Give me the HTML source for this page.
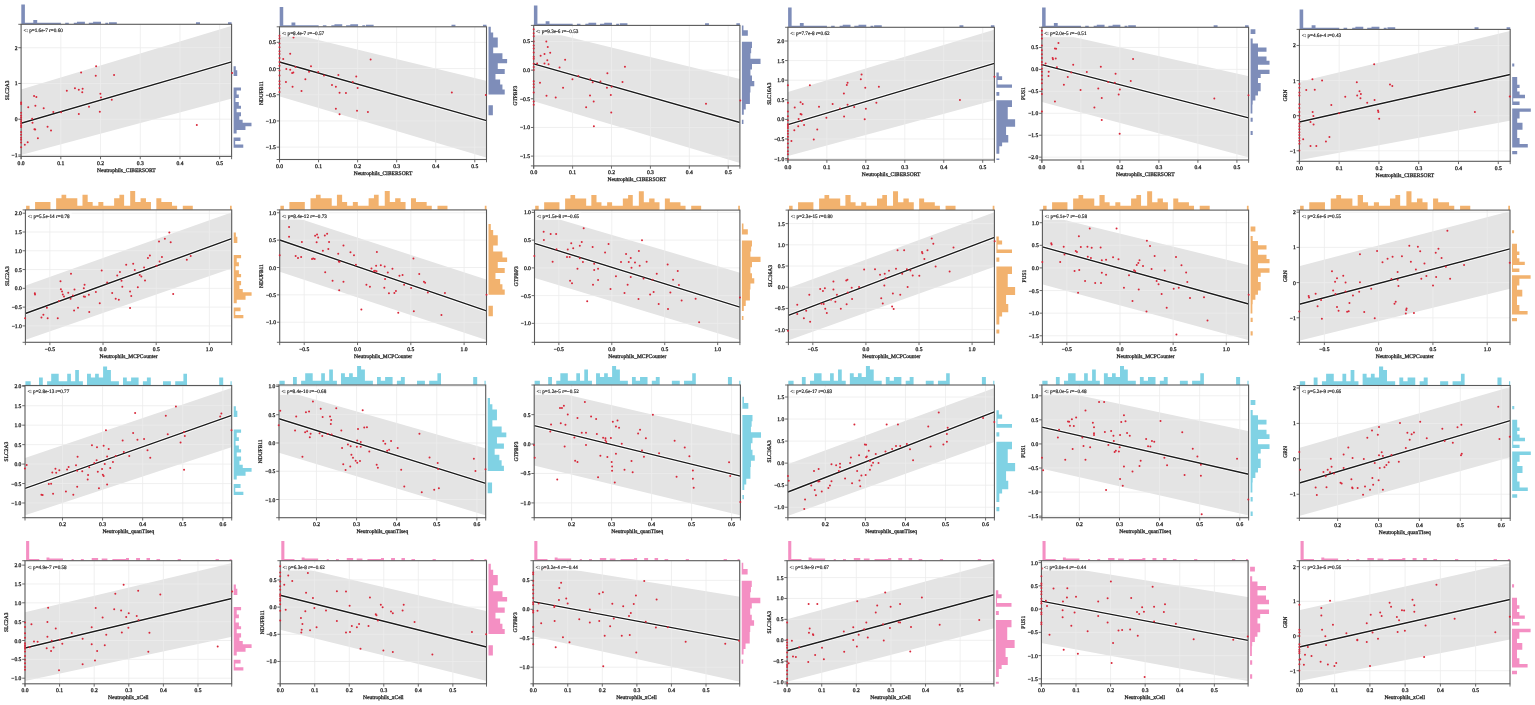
<!DOCTYPE html>
<html><head><meta charset="utf-8"><title>Neutrophil correlation plots</title>
<style>html,body{margin:0;padding:0;background:#fff;}body{width:1535px;height:705px;overflow:hidden;}svg{display:block;}</style>
</head><body>
<svg width="1535" height="705" viewBox="0 0 1535 705" font-family="'Liberation Serif', 'Times New Roman', serif" fill="#2a2a2a"><defs><filter id="bl" x="0" y="0" width="1" height="1"><feGaussianBlur stdDeviation="0.45"/></filter></defs><rect width="1535" height="705" fill="#fff"/><style>text{stroke:#2a2a2a;stroke-width:0.3px;text-rendering:geometricPrecision;}</style><g filter="url(#bl)">
<clipPath id="c00"><rect x="21.1" y="24.3" width="210.5" height="132.1"/></clipPath>
<path fill="#7e8db9" d="M21.3 24.1L21.3 4.4L24.9 4.4L24.9 22.7L33.3 22.7L33.3 20.1L37.2 20.1L37.2 22.7L60.9 22.7L60.9 24.1ZM65.2 24.1L65.2 22.7L68.8 22.7L68.8 24.1ZM73.8 24.1L73.8 22.7L77 22.7L77 21.7L84.9 21.7L84.9 24.1ZM88.8 24.1L88.8 22.7L93.1 22.7L93.1 21.7L101 21.7L101 24.1ZM105.3 24.1L105.3 22.7L108.2 22.7L108.2 24.1ZM109 24.1L109 22.2L116.8 22.2L116.8 24.1ZM196 24.1L196 22.2L200 22.2L200 24.1ZM228 24.1L228 22.2L231.6 22.2L231.6 24.1Z"/>
<path fill="#7e8db9" d="M233.6 66.16L235.78 66.16L235.78 70.16L237.24 70.16L237.24 75.96L233.6 75.96ZM233.6 87.46L240.98 87.46L240.98 90.51L236.62 90.51L236.62 94.5L238.8 94.5L238.8 98.12L235.47 98.12L235.47 102.11L238.8 102.11L238.8 105.63L240.98 105.63L240.98 108.67L236.62 108.67L236.62 112.29L240.98 112.29L240.98 116.28L239.32 116.28L239.32 119.8L242.65 119.8L242.65 122.84L251.49 122.84L251.49 126.36L245.46 126.36L245.46 129.98L236.62 129.98L236.62 133.5L233.6 133.5ZM233.6 137.49L240.46 137.49L240.46 141.1L235.16 141.1L235.16 144.62L243.27 144.62L243.27 147.67L233.6 147.67Z"/>
<g clip-path="url(#c00)"><polygon fill="#e4e4e4" points="20.1,89.8 232.6,25.5 232.6,98.3 20.1,155.2"/><path d="M60.82 24.3V156.4M100.53 24.3V156.4M140.25 24.3V156.4M179.97 24.3V156.4M219.68 24.3V156.4M21.1 47.71H231.6M21.1 83.47H231.6M21.1 119.23H231.6M21.1 154.99H231.6" stroke="#ececec" stroke-width="0.8" fill="none"/><path d="M21.1 123.3L231.6 61.8" stroke="#fff" stroke-width="3.2" fill="none"/><path d="M21.1 123.3L231.6 61.8" stroke="#1c1c1c" stroke-width="1.4" fill="none"/></g>
<rect x="21.1" y="24.3" width="210.5" height="132.1" fill="none" stroke="#5a5a5a" stroke-width="1.1"/>
<g fill="#d8283a"><circle cx="28.26" cy="107.25" r="1.0"/><circle cx="34.04" cy="96.06" r="1.0"/><circle cx="36.36" cy="97.02" r="1.0"/><circle cx="35.39" cy="105.7" r="1.0"/><circle cx="43.69" cy="108.21" r="1.0"/><circle cx="32.11" cy="118.82" r="1.0"/><circle cx="32.5" cy="122.87" r="1.0"/><circle cx="34.43" cy="129.23" r="1.0"/><circle cx="35.2" cy="129.43" r="1.0"/><circle cx="47.54" cy="126.73" r="1.0"/><circle cx="51.02" cy="130.39" r="1.0"/><circle cx="37.9" cy="138.3" r="1.0"/><circle cx="27.68" cy="142.15" r="1.0"/><circle cx="24.79" cy="144.85" r="1.0"/><circle cx="53.33" cy="112.07" r="1.0"/><circle cx="61.04" cy="112.26" r="1.0"/><circle cx="66.83" cy="90.85" r="1.0"/><circle cx="74.93" cy="88.35" r="1.0"/><circle cx="78.79" cy="89.7" r="1.0"/><circle cx="82.65" cy="88.73" r="1.0"/><circle cx="82.26" cy="92.2" r="1.0"/><circle cx="78.79" cy="114" r="1.0"/><circle cx="81.1" cy="72.53" r="1.0"/><circle cx="96.15" cy="66.36" r="1.0"/><circle cx="95.76" cy="75.81" r="1.0"/><circle cx="114.08" cy="75.04" r="1.0"/><circle cx="89.01" cy="106.86" r="1.0"/><circle cx="100.39" cy="93.75" r="1.0"/><circle cx="100.97" cy="97.6" r="1.0"/><circle cx="99.81" cy="111.87" r="1.0"/><circle cx="111.77" cy="99.72" r="1.0"/><circle cx="196.82" cy="124.99" r="1.0"/><circle cx="232.11" cy="72.92" r="1.0"/><circle cx="21.1" cy="102.62" r="1.0"/><circle cx="21.1" cy="103.97" r="1.0"/><circle cx="21.1" cy="112.65" r="1.0"/><circle cx="21.1" cy="115.54" r="1.0"/><circle cx="21.1" cy="117.47" r="1.0"/><circle cx="21.1" cy="119.4" r="1.0"/><circle cx="21.1" cy="121.32" r="1.0"/><circle cx="21.1" cy="123.25" r="1.0"/><circle cx="21.1" cy="125.18" r="1.0"/><circle cx="21.1" cy="127.11" r="1.0"/><circle cx="21.1" cy="131.93" r="1.0"/><circle cx="21.1" cy="134.83" r="1.0"/><circle cx="21.1" cy="137.72" r="1.0"/><circle cx="21.1" cy="139.65" r="1.0"/><circle cx="21.1" cy="142.54" r="1.0"/><circle cx="21.1" cy="147.36" r="1.0"/></g>
<path d="M21.1 156.4v2.8M60.82 156.4v2.8M100.53 156.4v2.8M140.25 156.4v2.8M179.97 156.4v2.8M219.68 156.4v2.8M21.1 47.71h-2.8M21.1 83.47h-2.8M21.1 119.23h-2.8M21.1 154.99h-2.8M21.1 156.4v2.8M231.6 156.4v2.8M21.1 24.3h-2.8M21.1 156.4h-2.8" stroke="#5a5a5a" stroke-width="0.9" fill="none"/>
<g font-size="5.6"><text x="21.1" y="164.9" text-anchor="middle">0.0</text><text x="60.82" y="164.9" text-anchor="middle">0.1</text><text x="100.53" y="164.9" text-anchor="middle">0.2</text><text x="140.25" y="164.9" text-anchor="middle">0.3</text><text x="179.97" y="164.9" text-anchor="middle">0.4</text><text x="219.68" y="164.9" text-anchor="middle">0.5</text><text x="17.5" y="49.71" text-anchor="end">2</text><text x="17.5" y="85.47" text-anchor="end">1</text><text x="17.5" y="121.23" text-anchor="end">0</text><text x="17.5" y="156.99" text-anchor="end">−1</text></g>
<text x="126.35" y="171.9" text-anchor="middle" font-size="5.5">Neutrophils_CIBERSORT</text>
<text transform="translate(8.74 90.35) rotate(-90)" text-anchor="middle" font-size="5.5">SLC2A3</text>
<rect x="22.3" y="26.6" width="42.41" height="7.6" fill="#fff" fill-opacity="0.8"/>
<text x="23.5" y="32.1" font-size="5.2" style="stroke-width:0.2px">&lt;: p=1.6e-7 r=0.60</text>
<clipPath id="c01"><rect x="279.5" y="26.8" width="207" height="132.7"/></clipPath>
<path fill="#7e8db9" d="M279.7 26.6L279.7 6.9L283.24 6.9L283.24 25.2L291.5 25.2L291.5 22.6L295.33 22.6L295.33 25.2L318.64 25.2L318.64 26.6ZM322.87 26.6L322.87 25.2L326.41 25.2L326.41 26.6ZM331.32 26.6L331.32 25.2L334.47 25.2L334.47 24.2L342.24 24.2L342.24 26.6ZM346.07 26.6L346.07 25.2L350.3 25.2L350.3 24.2L358.07 24.2L358.07 26.6ZM362.3 26.6L362.3 25.2L365.15 25.2L365.15 26.6ZM365.94 26.6L365.94 24.7L373.61 24.7L373.61 26.6ZM451.49 26.6L451.49 24.7L455.43 24.7L455.43 26.6ZM482.96 26.6L482.96 24.7L486.5 24.7L486.5 26.6Z"/>
<path fill="#7e8db9" d="M488.5 26.85L490.79 26.85L490.79 32.59L493.18 32.59L493.18 37.56L497.76 37.56L497.76 47.5L493.18 47.5L493.18 53.24L502.44 53.24L502.44 58.88L507.12 58.88L507.12 63.19L497.76 63.19L497.76 68.92L504.72 68.92L504.72 73.89L495.47 73.89L495.47 79.54L500.15 79.54L500.15 84.6L502.44 84.6L502.44 89.58L504.72 89.58L504.72 94.55L488.5 94.55ZM488.5 105.26L492.87 105.26L492.87 115.2L488.5 115.2Z"/>
<g clip-path="url(#c01)"><polygon fill="#e4e4e4" points="278.5,30.4 487.5,81.2 487.5,158 278.5,96"/><path d="M318.56 26.8V159.5M357.61 26.8V159.5M396.67 26.8V159.5M435.73 26.8V159.5M474.78 26.8V159.5M279.5 42.34H486.5M279.5 68.54H486.5M279.5 94.74H486.5M279.5 120.94H486.5M279.5 147.14H486.5" stroke="#ececec" stroke-width="0.8" fill="none"/><path d="M279.5 62L486.5 120.7" stroke="#fff" stroke-width="3.2" fill="none"/><path d="M279.5 62L486.5 120.7" stroke="#1c1c1c" stroke-width="1.4" fill="none"/></g>
<rect x="279.5" y="26.8" width="207" height="132.7" fill="none" stroke="#5a5a5a" stroke-width="1.1"/>
<g fill="#d8283a"><circle cx="293.51" cy="37.6" r="1.0"/><circle cx="290.21" cy="53.72" r="1.0"/><circle cx="283.22" cy="58.97" r="1.0"/><circle cx="286.32" cy="69.07" r="1.0"/><circle cx="290.21" cy="69.65" r="1.0"/><circle cx="292.15" cy="72.95" r="1.0"/><circle cx="293.32" cy="72.56" r="1.0"/><circle cx="295.45" cy="67.12" r="1.0"/><circle cx="310.99" cy="66.35" r="1.0"/><circle cx="309.05" cy="71.79" r="1.0"/><circle cx="318.18" cy="71.98" r="1.0"/><circle cx="324.01" cy="75.48" r="1.0"/><circle cx="305.36" cy="79.17" r="1.0"/><circle cx="285.94" cy="81.89" r="1.0"/><circle cx="292.54" cy="86.74" r="1.0"/><circle cx="301.48" cy="91.02" r="1.0"/><circle cx="331.97" cy="84.99" r="1.0"/><circle cx="335.86" cy="86.74" r="1.0"/><circle cx="338.38" cy="74.89" r="1.0"/><circle cx="356.25" cy="76.45" r="1.0"/><circle cx="352.76" cy="81.89" r="1.0"/><circle cx="357.61" cy="88.1" r="1.0"/><circle cx="339.55" cy="92.76" r="1.0"/><circle cx="345.96" cy="92.96" r="1.0"/><circle cx="370.63" cy="59.55" r="1.0"/><circle cx="335.86" cy="108.69" r="1.0"/><circle cx="339.55" cy="114.13" r="1.0"/><circle cx="357.03" cy="110.64" r="1.0"/><circle cx="367.91" cy="112" r="1.0"/><circle cx="451.83" cy="92.57" r="1.0"/><circle cx="485.82" cy="94.9" r="1.0"/><circle cx="279.5" cy="35.66" r="1.0"/><circle cx="279.5" cy="38.57" r="1.0"/><circle cx="279.5" cy="43.43" r="1.0"/><circle cx="279.5" cy="47.31" r="1.0"/><circle cx="279.5" cy="51.2" r="1.0"/><circle cx="279.5" cy="54.11" r="1.0"/><circle cx="279.5" cy="57.99" r="1.0"/><circle cx="279.5" cy="61.88" r="1.0"/><circle cx="279.5" cy="65.76" r="1.0"/><circle cx="279.5" cy="70.62" r="1.0"/><circle cx="279.5" cy="75.48" r="1.0"/><circle cx="279.5" cy="81.3" r="1.0"/><circle cx="279.5" cy="84.22" r="1.0"/><circle cx="279.5" cy="88.1" r="1.0"/><circle cx="279.5" cy="91.99" r="1.0"/></g>
<path d="M279.5 159.5v2.8M318.56 159.5v2.8M357.61 159.5v2.8M396.67 159.5v2.8M435.73 159.5v2.8M474.78 159.5v2.8M279.5 42.34h-2.8M279.5 68.54h-2.8M279.5 94.74h-2.8M279.5 120.94h-2.8M279.5 147.14h-2.8M279.5 159.5v2.8M486.5 159.5v2.8M279.5 26.8h-2.8M279.5 159.5h-2.8" stroke="#5a5a5a" stroke-width="0.9" fill="none"/>
<g font-size="5.6"><text x="279.5" y="168" text-anchor="middle">0.0</text><text x="318.56" y="168" text-anchor="middle">0.1</text><text x="357.61" y="168" text-anchor="middle">0.2</text><text x="396.67" y="168" text-anchor="middle">0.3</text><text x="435.73" y="168" text-anchor="middle">0.4</text><text x="474.78" y="168" text-anchor="middle">0.5</text><text x="275.9" y="44.34" text-anchor="end">0.5</text><text x="275.9" y="70.54" text-anchor="end">0.0</text><text x="275.9" y="96.74" text-anchor="end">−0.5</text><text x="275.9" y="122.94" text-anchor="end">−1.0</text><text x="275.9" y="149.14" text-anchor="end">−1.5</text></g>
<text x="383" y="175" text-anchor="middle" font-size="5.5">Neutrophils_CIBERSORT</text>
<text transform="translate(262.94 93.15) rotate(-90)" text-anchor="middle" font-size="5.5">NDUFB11</text>
<rect x="280.7" y="29.1" width="45.35" height="7.6" fill="#fff" fill-opacity="0.8"/>
<text x="281.9" y="34.6" font-size="5.2" style="stroke-width:0.2px">&lt;: p=8.4e-7 r=−0.57</text>
<clipPath id="c02"><rect x="533.7" y="25.4" width="206.2" height="140.5"/></clipPath>
<path fill="#7e8db9" d="M533.9 25.2L533.9 5.5L537.42 5.5L537.42 23.8L545.65 23.8L545.65 21.2L549.47 21.2L549.47 23.8L572.69 23.8L572.69 25.2ZM576.9 25.2L576.9 23.8L580.43 23.8L580.43 25.2ZM585.32 25.2L585.32 23.8L588.46 23.8L588.46 22.8L596.2 22.8L596.2 25.2ZM600.02 25.2L600.02 23.8L604.23 23.8L604.23 22.8L611.97 22.8L611.97 25.2ZM616.18 25.2L616.18 23.8L619.02 23.8L619.02 25.2ZM619.8 25.2L619.8 23.3L627.45 23.3L627.45 25.2ZM705.03 25.2L705.03 23.3L708.95 23.3L708.95 25.2ZM736.37 25.2L736.37 23.3L739.9 23.3L739.9 25.2Z"/>
<path fill="#7e8db9" d="M741.9 25.4L743.46 25.4L743.46 30.24L747.83 30.24L747.83 35.71L741.9 35.71ZM741.9 41.79L751.99 41.79L751.99 47.97L751.16 47.97L751.16 53.34L750.43 53.34L750.43 58.7L760.52 58.7L760.52 64.06L751.99 64.06L751.99 69.42L750.43 69.42L750.43 75.6L751.99 75.6L751.99 80.96L754.28 80.96L754.28 86.33L750.43 86.33L750.43 92.51L749.91 92.51L749.91 98.59L749.91 98.59L749.91 103.95L745.75 103.95L745.75 109.42L743.77 109.42L743.77 114.78L741.9 114.78ZM741.9 119.83L743.46 119.83L743.46 123.95L741.9 123.95Z"/>
<g clip-path="url(#c02)"><polygon fill="#e4e4e4" points="532.7,28.1 740.9,79.1 740.9,163.3 532.7,100.8"/><path d="M572.61 25.4V165.9M611.51 25.4V165.9M650.42 25.4V165.9M689.32 25.4V165.9M728.23 25.4V165.9M533.7 41.48H739.9M533.7 70.14H739.9M533.7 98.8H739.9M533.7 127.46H739.9M533.7 156.12H739.9" stroke="#ececec" stroke-width="0.8" fill="none"/><path d="M533.7 63.8L739.9 122.5" stroke="#fff" stroke-width="3.2" fill="none"/><path d="M533.7 63.8L739.9 122.5" stroke="#1c1c1c" stroke-width="1.4" fill="none"/></g>
<rect x="533.7" y="25.4" width="206.2" height="140.5" fill="none" stroke="#5a5a5a" stroke-width="1.1"/>
<g fill="#d8283a"><circle cx="546.32" cy="41.38" r="1.0"/><circle cx="547.74" cy="47.1" r="1.0"/><circle cx="550.2" cy="52.81" r="1.0"/><circle cx="544.48" cy="54.04" r="1.0"/><circle cx="540.6" cy="55.67" r="1.0"/><circle cx="547.34" cy="60.17" r="1.0"/><circle cx="544.48" cy="63.43" r="1.0"/><circle cx="548.56" cy="64.25" r="1.0"/><circle cx="537.13" cy="63.43" r="1.0"/><circle cx="565.1" cy="59.76" r="1.0"/><circle cx="559.59" cy="67.52" r="1.0"/><circle cx="624.94" cy="66.7" r="1.0"/><circle cx="607.37" cy="73.23" r="1.0"/><circle cx="572.45" cy="79.36" r="1.0"/><circle cx="590.22" cy="79.16" r="1.0"/><circle cx="592.67" cy="82.22" r="1.0"/><circle cx="600.43" cy="81.61" r="1.0"/><circle cx="622.48" cy="82.02" r="1.0"/><circle cx="539.99" cy="82.63" r="1.0"/><circle cx="563.06" cy="87.73" r="1.0"/><circle cx="606.96" cy="87.73" r="1.0"/><circle cx="611.66" cy="86.71" r="1.0"/><circle cx="546.52" cy="95.7" r="1.0"/><circle cx="555.71" cy="97.54" r="1.0"/><circle cx="590.02" cy="95.49" r="1.0"/><circle cx="610.84" cy="94.88" r="1.0"/><circle cx="593.69" cy="101.62" r="1.0"/><circle cx="586.14" cy="107.34" r="1.0"/><circle cx="611.25" cy="112.44" r="1.0"/><circle cx="593.9" cy="126.33" r="1.0"/><circle cx="706.01" cy="103.87" r="1.0"/><circle cx="740.31" cy="100.6" r="1.0"/><circle cx="578.38" cy="76.09" r="1.0"/><circle cx="533.7" cy="29.13" r="1.0"/><circle cx="533.7" cy="33.21" r="1.0"/><circle cx="533.7" cy="36.27" r="1.0"/><circle cx="533.7" cy="41.38" r="1.0"/><circle cx="533.7" cy="45.46" r="1.0"/><circle cx="533.7" cy="48.53" r="1.0"/><circle cx="533.7" cy="52.61" r="1.0"/><circle cx="533.7" cy="56.69" r="1.0"/><circle cx="533.7" cy="58.74" r="1.0"/><circle cx="533.7" cy="63.84" r="1.0"/><circle cx="533.7" cy="66.9" r="1.0"/><circle cx="533.7" cy="69.97" r="1.0"/><circle cx="533.7" cy="81.2" r="1.0"/><circle cx="533.7" cy="84.26" r="1.0"/><circle cx="533.7" cy="87.33" r="1.0"/><circle cx="533.7" cy="92.43" r="1.0"/><circle cx="533.7" cy="101.62" r="1.0"/><circle cx="533.7" cy="104.68" r="1.0"/></g>
<path d="M533.7 165.9v2.8M572.61 165.9v2.8M611.51 165.9v2.8M650.42 165.9v2.8M689.32 165.9v2.8M728.23 165.9v2.8M533.7 41.48h-2.8M533.7 70.14h-2.8M533.7 98.8h-2.8M533.7 127.46h-2.8M533.7 156.12h-2.8M533.7 165.9v2.8M739.9 165.9v2.8M533.7 25.4h-2.8M533.7 165.9h-2.8" stroke="#5a5a5a" stroke-width="0.9" fill="none"/>
<g font-size="5.6"><text x="533.7" y="174.4" text-anchor="middle">0.0</text><text x="572.61" y="174.4" text-anchor="middle">0.1</text><text x="611.51" y="174.4" text-anchor="middle">0.2</text><text x="650.42" y="174.4" text-anchor="middle">0.3</text><text x="689.32" y="174.4" text-anchor="middle">0.4</text><text x="728.23" y="174.4" text-anchor="middle">0.5</text><text x="530.1" y="43.48" text-anchor="end">0.5</text><text x="530.1" y="72.14" text-anchor="end">0.0</text><text x="530.1" y="100.8" text-anchor="end">−0.5</text><text x="530.1" y="129.46" text-anchor="end">−1.0</text><text x="530.1" y="158.12" text-anchor="end">−1.5</text></g>
<text x="636.8" y="181.4" text-anchor="middle" font-size="5.5">Neutrophils_CIBERSORT</text>
<text transform="translate(517.14 95.65) rotate(-90)" text-anchor="middle" font-size="5.5">GTPBP3</text>
<rect x="534.9" y="27.7" width="45.35" height="7.6" fill="#fff" fill-opacity="0.8"/>
<text x="536.1" y="33.2" font-size="5.2" style="stroke-width:0.2px">&lt;: p=9.3e-6 r=−0.53</text>
<clipPath id="c03"><rect x="787.9" y="27.3" width="206.5" height="132.7"/></clipPath>
<path fill="#7e8db9" d="M788.1 27.1L788.1 7.4L791.63 7.4L791.63 25.7L799.87 25.7L799.87 23.1L803.69 23.1L803.69 25.7L826.94 25.7L826.94 27.1ZM831.16 27.1L831.16 25.7L834.69 25.7L834.69 27.1ZM839.6 27.1L839.6 25.7L842.74 25.7L842.74 24.7L850.49 24.7L850.49 27.1ZM854.31 27.1L854.31 25.7L858.53 25.7L858.53 24.7L866.28 24.7L866.28 27.1ZM870.5 27.1L870.5 25.7L873.34 25.7L873.34 27.1ZM874.13 27.1L874.13 25.2L881.78 25.2L881.78 27.1ZM959.48 27.1L959.48 25.2L963.4 25.2L963.4 27.1ZM990.87 27.1L990.87 25.2L994.4 25.2L994.4 27.1Z"/>
<path fill="#7e8db9" d="M996.4 72.42L998.79 72.42L998.79 76.21L1002.12 76.21L1002.12 80L997.54 80L997.54 84.53L1012 84.53L1012 87.86L996.4 87.86ZM996.4 92.02L999.31 92.02L999.31 95.81L996.4 95.81ZM996.4 100.34L1012 100.34L1012 107.09L1007.74 107.09L1007.74 119.2L1015.12 119.2L1015.12 126.68L1006.07 126.68L1006.07 135L1008.26 135L1008.26 142.58L1002.12 142.58L1002.12 146.37L999.31 146.37L999.31 153.86L996.4 153.86ZM996.4 158.39L999.31 158.39L999.31 160L996.4 160Z"/>
<g clip-path="url(#c03)"><polygon fill="#e4e4e4" points="786.9,92.4 995.4,29.4 995.4,100 786.9,156.2"/><path d="M826.86 27.3V160M865.82 27.3V160M904.79 27.3V160M943.75 27.3V160M982.71 27.3V160M787.9 41H994.4M787.9 60.59H994.4M787.9 80.19H994.4M787.9 99.79H994.4M787.9 119.38H994.4M787.9 138.98H994.4M787.9 158.57H994.4" stroke="#ececec" stroke-width="0.8" fill="none"/><path d="M787.9 124.6L994.4 63.3" stroke="#fff" stroke-width="3.2" fill="none"/><path d="M787.9 124.6L994.4 63.3" stroke="#1c1c1c" stroke-width="1.4" fill="none"/></g>
<rect x="787.9" y="27.3" width="206.5" height="132.7" fill="none" stroke="#5a5a5a" stroke-width="1.1"/>
<g fill="#d8283a"><circle cx="809.88" cy="85.25" r="1.0"/><circle cx="861.58" cy="74.56" r="1.0"/><circle cx="860.8" cy="79.23" r="1.0"/><circle cx="847.59" cy="82.73" r="1.0"/><circle cx="846.81" cy="85.06" r="1.0"/><circle cx="843.89" cy="93.42" r="1.0"/><circle cx="865.27" cy="87.78" r="1.0"/><circle cx="878.88" cy="86.81" r="1.0"/><circle cx="800.55" cy="102.16" r="1.0"/><circle cx="802.69" cy="104.11" r="1.0"/><circle cx="794.72" cy="107.6" r="1.0"/><circle cx="819.01" cy="106.63" r="1.0"/><circle cx="832.62" cy="104.11" r="1.0"/><circle cx="840" cy="108.58" r="1.0"/><circle cx="847.59" cy="104.69" r="1.0"/><circle cx="854.19" cy="107.02" r="1.0"/><circle cx="876.35" cy="102.75" r="1.0"/><circle cx="865.86" cy="108.77" r="1.0"/><circle cx="800.55" cy="114.02" r="1.0"/><circle cx="801.52" cy="114.41" r="1.0"/><circle cx="798.61" cy="118.88" r="1.0"/><circle cx="801.72" cy="121.02" r="1.0"/><circle cx="826.4" cy="117.71" r="1.0"/><circle cx="844.09" cy="116.55" r="1.0"/><circle cx="864.69" cy="119.27" r="1.0"/><circle cx="798.22" cy="126.26" r="1.0"/><circle cx="804.05" cy="125.1" r="1.0"/><circle cx="794.33" cy="130.15" r="1.0"/><circle cx="817.26" cy="129.57" r="1.0"/><circle cx="813.77" cy="139.48" r="1.0"/><circle cx="791.41" cy="141.03" r="1.0"/><circle cx="959.93" cy="100.02" r="1.0"/><circle cx="994.52" cy="76.7" r="1.0"/><circle cx="787.9" cy="85.25" r="1.0"/><circle cx="787.9" cy="102.75" r="1.0"/><circle cx="787.9" cy="111.49" r="1.0"/><circle cx="787.9" cy="116.35" r="1.0"/><circle cx="787.9" cy="120.24" r="1.0"/><circle cx="787.9" cy="124.13" r="1.0"/><circle cx="787.9" cy="126.07" r="1.0"/><circle cx="787.9" cy="128.01" r="1.0"/><circle cx="787.9" cy="130.93" r="1.0"/><circle cx="787.9" cy="133.84" r="1.0"/><circle cx="787.9" cy="136.76" r="1.0"/><circle cx="787.9" cy="139.67" r="1.0"/><circle cx="787.9" cy="143.56" r="1.0"/><circle cx="787.9" cy="147.45" r="1.0"/><circle cx="787.9" cy="151.34" r="1.0"/><circle cx="787.9" cy="154.25" r="1.0"/><circle cx="787.9" cy="159.11" r="1.0"/></g>
<path d="M787.9 160v2.8M826.86 160v2.8M865.82 160v2.8M904.79 160v2.8M943.75 160v2.8M982.71 160v2.8M787.9 41h-2.8M787.9 60.59h-2.8M787.9 80.19h-2.8M787.9 99.79h-2.8M787.9 119.38h-2.8M787.9 138.98h-2.8M787.9 158.57h-2.8M787.9 160v2.8M994.4 160v2.8M787.9 27.3h-2.8M787.9 160h-2.8" stroke="#5a5a5a" stroke-width="0.9" fill="none"/>
<g font-size="5.6"><text x="787.9" y="168.5" text-anchor="middle">0.0</text><text x="826.86" y="168.5" text-anchor="middle">0.1</text><text x="865.82" y="168.5" text-anchor="middle">0.2</text><text x="904.79" y="168.5" text-anchor="middle">0.3</text><text x="943.75" y="168.5" text-anchor="middle">0.4</text><text x="982.71" y="168.5" text-anchor="middle">0.5</text><text x="784.3" y="43" text-anchor="end">2.0</text><text x="784.3" y="62.59" text-anchor="end">1.5</text><text x="784.3" y="82.19" text-anchor="end">1.0</text><text x="784.3" y="101.79" text-anchor="end">0.5</text><text x="784.3" y="121.38" text-anchor="end">0.0</text><text x="784.3" y="140.98" text-anchor="end">−0.5</text><text x="784.3" y="160.57" text-anchor="end">−1.0</text></g>
<text x="891.15" y="175.5" text-anchor="middle" font-size="5.5">Neutrophils_CIBERSORT</text>
<text transform="translate(771.34 93.65) rotate(-90)" text-anchor="middle" font-size="5.5">SLC16A3</text>
<rect x="789.1" y="29.6" width="42.41" height="7.6" fill="#fff" fill-opacity="0.8"/>
<text x="790.3" y="35.1" font-size="5.2" style="stroke-width:0.2px">&lt;: p=7.7e-8 r=0.62</text>
<clipPath id="c04"><rect x="1041.9" y="27.3" width="206.7" height="132.7"/></clipPath>
<path fill="#7e8db9" d="M1042.1 27.1L1042.1 7.4L1045.63 7.4L1045.63 25.7L1053.88 25.7L1053.88 23.1L1057.71 23.1L1057.71 25.7L1080.98 25.7L1080.98 27.1ZM1085.2 27.1L1085.2 25.7L1088.74 25.7L1088.74 27.1ZM1093.65 27.1L1093.65 25.7L1096.79 25.7L1096.79 24.7L1104.55 24.7L1104.55 27.1ZM1108.38 27.1L1108.38 25.7L1112.6 25.7L1112.6 24.7L1120.36 24.7L1120.36 27.1ZM1124.58 27.1L1124.58 25.7L1127.43 25.7L1127.43 27.1ZM1128.21 27.1L1128.21 25.2L1135.87 25.2L1135.87 27.1ZM1213.64 27.1L1213.64 25.2L1217.57 25.2L1217.57 27.1ZM1245.06 27.1L1245.06 25.2L1248.6 25.2L1248.6 27.1Z"/>
<path fill="#7e8db9" d="M1250.6 29.31L1255.38 29.31L1255.38 33.97L1250.6 33.97ZM1250.6 38.44L1252.68 38.44L1252.68 43.39L1257.98 43.39L1257.98 47.47L1266.51 47.47L1266.51 51.64L1257.98 51.64L1257.98 56.59L1266.51 56.59L1266.51 60.67L1269.53 60.67L1269.53 64.84L1257.98 64.84L1257.98 69.79L1269.53 69.79L1269.53 73.97L1260.69 73.97L1260.69 78.05L1257.98 78.05L1257.98 83L1260.69 83L1260.69 87.08L1260.69 87.08L1260.69 91.25L1257.98 91.25L1257.98 95.42L1255.38 95.42L1255.38 100.38L1252.68 100.38L1252.68 104.55L1252.37 104.55L1252.37 113.58L1250.6 113.58ZM1250.6 117.75L1252.68 117.75L1252.68 121.83L1250.6 121.83ZM1250.6 130.96L1252.68 130.96L1252.68 135.03L1250.6 135.03Z"/>
<g clip-path="url(#c04)"><polygon fill="#e4e4e4" points="1040.9,29.7 1249.6,76.5 1249.6,157.7 1040.9,101.6"/><path d="M1080.9 27.3V160M1119.9 27.3V160M1158.9 27.3V160M1197.9 27.3V160M1236.9 27.3V160M1041.9 47.47H1248.6M1041.9 69.41H1248.6M1041.9 91.35H1248.6M1041.9 113.29H1248.6M1041.9 135.23H1248.6M1041.9 157.17H1248.6" stroke="#ececec" stroke-width="0.8" fill="none"/><path d="M1041.9 64.6L1248.6 117.9" stroke="#fff" stroke-width="3.2" fill="none"/><path d="M1041.9 64.6L1248.6 117.9" stroke="#1c1c1c" stroke-width="1.4" fill="none"/></g>
<rect x="1041.9" y="27.3" width="206.7" height="132.7" fill="none" stroke="#5a5a5a" stroke-width="1.1"/>
<g fill="#d8283a"><circle cx="1058.44" cy="43.08" r="1.0"/><circle cx="1054.94" cy="48.52" r="1.0"/><circle cx="1056.1" cy="48.71" r="1.0"/><circle cx="1052.61" cy="58.04" r="1.0"/><circle cx="1052.99" cy="59.21" r="1.0"/><circle cx="1055.72" cy="58.43" r="1.0"/><circle cx="1045.61" cy="63.48" r="1.0"/><circle cx="1056.88" cy="67.37" r="1.0"/><circle cx="1073.21" cy="64.84" r="1.0"/><circle cx="1100.81" cy="66.79" r="1.0"/><circle cx="1133.07" cy="59.01" r="1.0"/><circle cx="1048.72" cy="71.65" r="1.0"/><circle cx="1048.52" cy="76.12" r="1.0"/><circle cx="1067.77" cy="77.09" r="1.0"/><circle cx="1071.26" cy="72.42" r="1.0"/><circle cx="1086.81" cy="72.04" r="1.0"/><circle cx="1115.58" cy="73.79" r="1.0"/><circle cx="1063.88" cy="84.86" r="1.0"/><circle cx="1080.59" cy="90.11" r="1.0"/><circle cx="1098.28" cy="88.56" r="1.0"/><circle cx="1108.19" cy="81.95" r="1.0"/><circle cx="1114.8" cy="82.73" r="1.0"/><circle cx="1130.74" cy="80.98" r="1.0"/><circle cx="1119.86" cy="89.53" r="1.0"/><circle cx="1118.69" cy="94.58" r="1.0"/><circle cx="1101.78" cy="97.89" r="1.0"/><circle cx="1054.94" cy="101.38" r="1.0"/><circle cx="1094.39" cy="107.6" r="1.0"/><circle cx="1101.78" cy="120.04" r="1.0"/><circle cx="1119.66" cy="133.65" r="1.0"/><circle cx="1214.32" cy="98.47" r="1.0"/><circle cx="1248.52" cy="95.36" r="1.0"/><circle cx="1041.9" cy="30.83" r="1.0"/><circle cx="1041.9" cy="34.72" r="1.0"/><circle cx="1041.9" cy="38.61" r="1.0"/><circle cx="1041.9" cy="45.41" r="1.0"/><circle cx="1041.9" cy="50.27" r="1.0"/><circle cx="1041.9" cy="54.15" r="1.0"/><circle cx="1041.9" cy="58.04" r="1.0"/><circle cx="1041.9" cy="61.93" r="1.0"/><circle cx="1041.9" cy="64.84" r="1.0"/><circle cx="1041.9" cy="68.73" r="1.0"/><circle cx="1041.9" cy="71.65" r="1.0"/><circle cx="1041.9" cy="75.53" r="1.0"/><circle cx="1041.9" cy="79.42" r="1.0"/><circle cx="1041.9" cy="83.31" r="1.0"/><circle cx="1041.9" cy="89.14" r="1.0"/><circle cx="1041.9" cy="94" r="1.0"/><circle cx="1041.9" cy="111.49" r="1.0"/></g>
<path d="M1041.9 160v2.8M1080.9 160v2.8M1119.9 160v2.8M1158.9 160v2.8M1197.9 160v2.8M1236.9 160v2.8M1041.9 47.47h-2.8M1041.9 69.41h-2.8M1041.9 91.35h-2.8M1041.9 113.29h-2.8M1041.9 135.23h-2.8M1041.9 157.17h-2.8M1041.9 160v2.8M1248.6 160v2.8M1041.9 27.3h-2.8M1041.9 160h-2.8" stroke="#5a5a5a" stroke-width="0.9" fill="none"/>
<g font-size="5.6"><text x="1041.9" y="168.5" text-anchor="middle">0.0</text><text x="1080.9" y="168.5" text-anchor="middle">0.1</text><text x="1119.9" y="168.5" text-anchor="middle">0.2</text><text x="1158.9" y="168.5" text-anchor="middle">0.3</text><text x="1197.9" y="168.5" text-anchor="middle">0.4</text><text x="1236.9" y="168.5" text-anchor="middle">0.5</text><text x="1038.3" y="49.47" text-anchor="end">0.5</text><text x="1038.3" y="71.41" text-anchor="end">0.0</text><text x="1038.3" y="93.35" text-anchor="end">−0.5</text><text x="1038.3" y="115.29" text-anchor="end">−1.0</text><text x="1038.3" y="137.23" text-anchor="end">−1.5</text><text x="1038.3" y="159.17" text-anchor="end">−2.0</text></g>
<text x="1145.25" y="175.5" text-anchor="middle" font-size="5.5">Neutrophils_CIBERSORT</text>
<text transform="translate(1025.34 93.65) rotate(-90)" text-anchor="middle" font-size="5.5">PUS1</text>
<rect x="1043.1" y="29.6" width="45.35" height="7.6" fill="#fff" fill-opacity="0.8"/>
<text x="1044.3" y="35.1" font-size="5.2" style="stroke-width:0.2px">&lt;: p=2.0e-5 r=−0.51</text>
<clipPath id="c05"><rect x="1299.4" y="29.4" width="210.8" height="131.9"/></clipPath>
<path fill="#7e8db9" d="M1299.6 29.2L1299.6 9.5L1303.21 9.5L1303.21 27.8L1311.62 27.8L1311.62 25.2L1315.52 25.2L1315.52 27.8L1339.26 27.8L1339.26 29.2ZM1343.56 29.2L1343.56 27.8L1347.17 27.8L1347.17 29.2ZM1352.18 29.2L1352.18 27.8L1355.38 27.8L1355.38 26.8L1363.29 26.8L1363.29 29.2ZM1367.2 29.2L1367.2 27.8L1371.5 27.8L1371.5 26.8L1379.41 26.8L1379.41 29.2ZM1383.72 29.2L1383.72 27.8L1386.62 27.8L1386.62 29.2ZM1387.43 29.2L1387.43 27.3L1395.24 27.3L1395.24 29.2ZM1474.55 29.2L1474.55 27.3L1478.55 27.3L1478.55 29.2ZM1506.59 29.2L1506.59 27.3L1510.2 27.3L1510.2 29.2Z"/>
<path fill="#7e8db9" d="M1512.2 63.41L1514.28 63.41L1514.28 66.51L1512.2 66.51ZM1512.2 76.98L1517.19 76.98L1517.19 84.66L1519.58 84.66L1519.58 88.05L1517.19 88.05L1517.19 91.44L1519.58 91.44L1519.58 94.83L1524.99 94.83L1524.99 98.22L1513.24 98.22L1513.24 101.62L1519.58 101.62L1519.58 105.01L1512.2 105.01ZM1512.2 108.4L1530.82 108.4L1530.82 111.79L1519.58 111.79L1519.58 118.57L1517.19 118.57L1517.19 122.86L1522.5 122.86L1522.5 129.64L1517.19 129.64L1517.19 133.04L1517.19 133.04L1517.19 138.12L1519.58 138.12L1519.58 144.11L1527.8 144.11L1527.8 147.5L1512.2 147.5ZM1512.2 150.89L1517.19 150.89L1517.19 154.28L1512.2 154.28Z"/>
<g clip-path="url(#c05)"><polygon fill="#e4e4e4" points="1298.4,82.2 1511.2,30.6 1511.2,120.5 1298.4,160.3"/><path d="M1339.17 29.4V161.3M1378.95 29.4V161.3M1418.72 29.4V161.3M1458.49 29.4V161.3M1498.27 29.4V161.3M1299.4 45.46H1510.2M1299.4 80.57H1510.2M1299.4 115.68H1510.2M1299.4 150.79H1510.2" stroke="#ececec" stroke-width="0.8" fill="none"/><path d="M1299.4 122L1510.2 74.5" stroke="#fff" stroke-width="3.2" fill="none"/><path d="M1299.4 122L1510.2 74.5" stroke="#1c1c1c" stroke-width="1.4" fill="none"/></g>
<rect x="1299.4" y="29.4" width="210.8" height="131.9" fill="none" stroke="#5a5a5a" stroke-width="1.1"/>
<g fill="#d8283a"><circle cx="1374.16" cy="64.23" r="1.0"/><circle cx="1312.43" cy="79.28" r="1.0"/><circle cx="1322.08" cy="80.43" r="1.0"/><circle cx="1356.8" cy="82.17" r="1.0"/><circle cx="1389.98" cy="84.48" r="1.0"/><circle cx="1392.29" cy="86.03" r="1.0"/><circle cx="1306.26" cy="89.89" r="1.0"/><circle cx="1314.75" cy="89.69" r="1.0"/><circle cx="1359.5" cy="91.24" r="1.0"/><circle cx="1360.85" cy="93.94" r="1.0"/><circle cx="1357.19" cy="95.48" r="1.0"/><circle cx="1345.23" cy="96.64" r="1.0"/><circle cx="1360.46" cy="98.18" r="1.0"/><circle cx="1374.55" cy="99.92" r="1.0"/><circle cx="1367.22" cy="102.81" r="1.0"/><circle cx="1331.34" cy="105.12" r="1.0"/><circle cx="1312.62" cy="112.07" r="1.0"/><circle cx="1313.4" cy="115.93" r="1.0"/><circle cx="1378.02" cy="110.53" r="1.0"/><circle cx="1378.4" cy="111.88" r="1.0"/><circle cx="1379.18" cy="118.63" r="1.0"/><circle cx="1310.5" cy="121.91" r="1.0"/><circle cx="1313.59" cy="124.42" r="1.0"/><circle cx="1339.05" cy="113.23" r="1.0"/><circle cx="1329.41" cy="136.95" r="1.0"/><circle cx="1303.17" cy="139.27" r="1.0"/><circle cx="1325.94" cy="141.58" r="1.0"/><circle cx="1310.5" cy="146.02" r="1.0"/><circle cx="1316.29" cy="146.02" r="1.0"/><circle cx="1474.85" cy="111.88" r="1.0"/><circle cx="1509.77" cy="96.44" r="1.0"/><circle cx="1299.4" cy="83.91" r="1.0"/><circle cx="1299.4" cy="87.76" r="1.0"/><circle cx="1299.4" cy="92.59" r="1.0"/><circle cx="1299.4" cy="95.48" r="1.0"/><circle cx="1299.4" cy="104.16" r="1.0"/><circle cx="1299.4" cy="108.02" r="1.0"/><circle cx="1299.4" cy="111.88" r="1.0"/><circle cx="1299.4" cy="115.73" r="1.0"/><circle cx="1299.4" cy="119.59" r="1.0"/><circle cx="1299.4" cy="123.45" r="1.0"/><circle cx="1299.4" cy="126.34" r="1.0"/><circle cx="1299.4" cy="129.24" r="1.0"/><circle cx="1299.4" cy="132.13" r="1.0"/><circle cx="1299.4" cy="135.02" r="1.0"/><circle cx="1299.4" cy="137.92" r="1.0"/><circle cx="1299.4" cy="140.81" r="1.0"/><circle cx="1299.4" cy="143.71" r="1.0"/><circle cx="1299.4" cy="150.46" r="1.0"/></g>
<path d="M1299.4 161.3v2.8M1339.17 161.3v2.8M1378.95 161.3v2.8M1418.72 161.3v2.8M1458.49 161.3v2.8M1498.27 161.3v2.8M1299.4 45.46h-2.8M1299.4 80.57h-2.8M1299.4 115.68h-2.8M1299.4 150.79h-2.8M1299.4 161.3v2.8M1510.2 161.3v2.8M1299.4 29.4h-2.8M1299.4 161.3h-2.8" stroke="#5a5a5a" stroke-width="0.9" fill="none"/>
<g font-size="5.6"><text x="1299.4" y="169.8" text-anchor="middle">0.0</text><text x="1339.17" y="169.8" text-anchor="middle">0.1</text><text x="1378.95" y="169.8" text-anchor="middle">0.2</text><text x="1418.72" y="169.8" text-anchor="middle">0.3</text><text x="1458.49" y="169.8" text-anchor="middle">0.4</text><text x="1498.27" y="169.8" text-anchor="middle">0.5</text><text x="1295.8" y="47.46" text-anchor="end">2</text><text x="1295.8" y="82.57" text-anchor="end">1</text><text x="1295.8" y="117.68" text-anchor="end">0</text><text x="1295.8" y="152.79" text-anchor="end">−1</text></g>
<text x="1404.8" y="176.8" text-anchor="middle" font-size="5.5">Neutrophils_CIBERSORT</text>
<text transform="translate(1287.04 95.35) rotate(-90)" text-anchor="middle" font-size="5.5">GRN</text>
<rect x="1300.6" y="31.7" width="42.41" height="7.6" fill="#fff" fill-opacity="0.8"/>
<text x="1301.8" y="37.2" font-size="5.2" style="stroke-width:0.2px">&lt;: p=4.6e-4 r=0.43</text>
<clipPath id="c10"><rect x="25.4" y="209.9" width="206.3" height="132.4"/></clipPath>
<path fill="#f2b26e" d="M26.1 209.7L26.1 205.65L29.59 205.65L29.59 209.7ZM35.08 209.7L35.08 202L50.45 202L50.45 209.7ZM56.14 209.7L56.14 198.35L61.53 198.35L61.53 194.7L66.22 194.7L66.22 198.35L77.3 198.35L77.3 205.65L82.49 205.65L82.49 194.7L87.68 194.7L87.68 202L92.67 202L92.67 205.65L98.36 205.65L98.36 202L103.35 202L103.35 205.65L114.13 205.65L114.13 198.35L119.42 198.35L119.42 194.7L124.11 194.7L124.11 205.65L130.2 205.65L130.2 191.05L135.19 191.05L135.19 202L140.58 202L140.58 198.35L145.97 198.35L145.97 202L150.96 202L150.96 209.7ZM156.35 209.7L156.35 198.35L161.34 198.35L161.34 202L172.02 202L172.02 205.65L177.11 205.65L177.11 209.7ZM182.79 209.7L182.79 205.65L192.78 205.65L192.78 209.7ZM230 209.7L230 205.65L231.7 205.65L231.7 209.7Z"/>
<path fill="#f2b26e" d="M233.7 232.59L235.88 232.59L235.88 236.79L237.34 236.79L237.34 242.88L233.7 242.88ZM233.7 254.97L241.08 254.97L241.08 258.17L236.72 258.17L236.72 262.36L238.9 262.36L238.9 266.16L235.57 266.16L235.57 270.36L238.9 270.36L238.9 274.05L241.08 274.05L241.08 277.25L236.72 277.25L236.72 281.05L241.08 281.05L241.08 285.24L239.42 285.24L239.42 288.94L242.75 288.94L242.75 292.14L251.59 292.14L251.59 295.83L245.56 295.83L245.56 299.63L236.72 299.63L236.72 303.33L233.7 303.33ZM233.7 307.52L240.56 307.52L240.56 311.32L235.26 311.32L235.26 315.01L243.37 315.01L243.37 318.21L233.7 318.21Z"/>
<g clip-path="url(#c10)"><polygon fill="#e4e4e4" points="24.4,285.9 232.7,211.9 232.7,268 24.4,340.3"/><path d="M49.86 209.9V342.3M103.03 209.9V342.3M156.2 209.9V342.3M209.37 209.9V342.3M25.4 213.21H231.7M25.4 231.99H231.7M25.4 250.78H231.7M25.4 269.56H231.7M25.4 288.34H231.7M25.4 307.12H231.7M25.4 325.9H231.7" stroke="#ececec" stroke-width="0.8" fill="none"/><path d="M25.4 313.5L231.7 238.7" stroke="#fff" stroke-width="3.2" fill="none"/><path d="M25.4 313.5L231.7 238.7" stroke="#1c1c1c" stroke-width="1.4" fill="none"/></g>
<rect x="25.4" y="209.9" width="206.3" height="132.4" fill="none" stroke="#5a5a5a" stroke-width="1.1"/>
<g fill="#d8283a"><circle cx="169.33" cy="232.46" r="1.0"/><circle cx="164.86" cy="238.68" r="1.0"/><circle cx="159.03" cy="241.6" r="1.0"/><circle cx="170.69" cy="242.37" r="1.0"/><circle cx="149.89" cy="255.59" r="1.0"/><circle cx="147.95" cy="258.12" r="1.0"/><circle cx="161.94" cy="256.95" r="1.0"/><circle cx="159.61" cy="261.42" r="1.0"/><circle cx="156.5" cy="265.7" r="1.0"/><circle cx="190.71" cy="255.98" r="1.0"/><circle cx="186.82" cy="259.67" r="1.0"/><circle cx="126.18" cy="264.73" r="1.0"/><circle cx="133.18" cy="263.75" r="1.0"/><circle cx="134.73" cy="269.97" r="1.0"/><circle cx="144.06" cy="267.45" r="1.0"/><circle cx="119.96" cy="272.11" r="1.0"/><circle cx="117.24" cy="275.61" r="1.0"/><circle cx="139.78" cy="275.03" r="1.0"/><circle cx="141.34" cy="276.39" r="1.0"/><circle cx="121.51" cy="280.86" r="1.0"/><circle cx="145.03" cy="280.47" r="1.0"/><circle cx="101.69" cy="270.56" r="1.0"/><circle cx="70.98" cy="273.67" r="1.0"/><circle cx="107.13" cy="282.41" r="1.0"/><circle cx="60.48" cy="281.25" r="1.0"/><circle cx="84.59" cy="284.75" r="1.0"/><circle cx="83.81" cy="288.24" r="1.0"/><circle cx="74.48" cy="289.6" r="1.0"/><circle cx="60.87" cy="289.22" r="1.0"/><circle cx="62.04" cy="291.55" r="1.0"/><circle cx="68.26" cy="292.71" r="1.0"/><circle cx="62.82" cy="294.46" r="1.0"/><circle cx="63.98" cy="296.6" r="1.0"/><circle cx="72.92" cy="295.44" r="1.0"/><circle cx="83.81" cy="296.41" r="1.0"/><circle cx="84.97" cy="296.8" r="1.0"/><circle cx="88.86" cy="294.85" r="1.0"/><circle cx="95.86" cy="291.94" r="1.0"/><circle cx="70.59" cy="298.74" r="1.0"/><circle cx="58.93" cy="300.88" r="1.0"/><circle cx="112.18" cy="292.91" r="1.0"/><circle cx="130.07" cy="291.55" r="1.0"/><circle cx="122.29" cy="286.69" r="1.0"/><circle cx="137.84" cy="287.27" r="1.0"/><circle cx="131.23" cy="296.02" r="1.0"/><circle cx="115.68" cy="298.74" r="1.0"/><circle cx="118.79" cy="299.71" r="1.0"/><circle cx="173.21" cy="294.07" r="1.0"/><circle cx="34.83" cy="293.3" r="1.0"/><circle cx="35.02" cy="294.46" r="1.0"/><circle cx="99.75" cy="303.21" r="1.0"/><circle cx="46.88" cy="307.68" r="1.0"/><circle cx="77.98" cy="307.87" r="1.0"/><circle cx="74.09" cy="310.4" r="1.0"/><circle cx="89.25" cy="311.96" r="1.0"/><circle cx="130.07" cy="308.07" r="1.0"/><circle cx="43.38" cy="314.87" r="1.0"/><circle cx="41.44" cy="317.4" r="1.0"/><circle cx="47.66" cy="318.18" r="1.0"/><circle cx="57.76" cy="318.18" r="1.0"/><circle cx="25.11" cy="318.37" r="1.0"/></g>
<path d="M49.86 342.3v2.8M103.03 342.3v2.8M156.2 342.3v2.8M209.37 342.3v2.8M25.4 213.21h-2.8M25.4 231.99h-2.8M25.4 250.78h-2.8M25.4 269.56h-2.8M25.4 288.34h-2.8M25.4 307.12h-2.8M25.4 325.9h-2.8M25.4 342.3v2.8M231.7 342.3v2.8M25.4 209.9h-2.8M25.4 342.3h-2.8" stroke="#5a5a5a" stroke-width="0.9" fill="none"/>
<g font-size="5.6"><text x="49.86" y="350.8" text-anchor="middle">−0.5</text><text x="103.03" y="350.8" text-anchor="middle">0.0</text><text x="156.2" y="350.8" text-anchor="middle">0.5</text><text x="209.37" y="350.8" text-anchor="middle">1.0</text><text x="21.8" y="215.21" text-anchor="end">2.0</text><text x="21.8" y="233.99" text-anchor="end">1.5</text><text x="21.8" y="252.78" text-anchor="end">1.0</text><text x="21.8" y="271.56" text-anchor="end">0.5</text><text x="21.8" y="290.34" text-anchor="end">0.0</text><text x="21.8" y="309.12" text-anchor="end">−0.5</text><text x="21.8" y="327.9" text-anchor="end">−1.0</text></g>
<text x="128.55" y="357.8" text-anchor="middle" font-size="5.5">Neutrophils_MCPCounter</text>
<text transform="translate(8.84 276.1) rotate(-90)" text-anchor="middle" font-size="5.5">SLC2A3</text>
<rect x="26.6" y="212.2" width="45.01" height="7.6" fill="#fff" fill-opacity="0.8"/>
<text x="27.8" y="217.7" font-size="5.2" style="stroke-width:0.2px">&lt;: p=5.5e-14 r=0.78</text>
<clipPath id="c11"><rect x="279.7" y="209.9" width="206.8" height="132.4"/></clipPath>
<path fill="#f2b26e" d="M280.4 209.7L280.4 205.65L283.9 205.65L283.9 209.7ZM289.4 209.7L289.4 202L304.81 202L304.81 209.7ZM310.51 209.7L310.51 198.35L315.92 198.35L315.92 194.7L320.62 194.7L320.62 198.35L331.73 198.35L331.73 205.65L336.93 205.65L336.93 194.7L342.13 194.7L342.13 202L347.13 202L347.13 205.65L352.84 205.65L352.84 202L357.84 202L357.84 205.65L368.64 205.65L368.64 198.35L373.95 198.35L373.95 194.7L378.65 194.7L378.65 205.65L384.75 205.65L384.75 191.05L389.75 191.05L389.75 202L395.16 202L395.16 198.35L400.56 198.35L400.56 202L405.56 202L405.56 209.7ZM410.96 209.7L410.96 198.35L415.97 198.35L415.97 202L426.67 202L426.67 205.65L431.77 205.65L431.77 209.7ZM437.48 209.7L437.48 205.65L447.48 205.65L447.48 209.7ZM484.8 209.7L484.8 205.65L486.5 205.65L486.5 209.7Z"/>
<path fill="#f2b26e" d="M488.5 223.95L490.79 223.95L490.79 229.94L493.18 229.94L493.18 235.14L497.76 235.14L497.76 245.52L493.18 245.52L493.18 251.52L502.44 251.52L502.44 257.41L507.12 257.41L507.12 261.91L497.76 261.91L497.76 267.9L504.72 267.9L504.72 273.09L495.47 273.09L495.47 278.99L500.15 278.99L500.15 284.28L502.44 284.28L502.44 289.48L504.72 289.48L504.72 294.67L488.5 294.67ZM488.5 305.86L492.87 305.86L492.87 316.25L488.5 316.25Z"/>
<g clip-path="url(#c11)"><polygon fill="#e4e4e4" points="278.7,212 487.5,279.9 487.5,340.3 278.7,271.4"/><path d="M304.22 209.9V342.3M357.52 209.9V342.3M410.82 209.9V342.3M464.11 209.9V342.3M279.7 212.76H486.5M279.7 240.13H486.5M279.7 267.5H486.5M279.7 294.87H486.5M279.7 322.24H486.5" stroke="#ececec" stroke-width="0.8" fill="none"/><path d="M279.7 240L486.5 310.9" stroke="#fff" stroke-width="3.2" fill="none"/><path d="M279.7 240L486.5 310.9" stroke="#1c1c1c" stroke-width="1.4" fill="none"/></g>
<rect x="279.7" y="209.9" width="206.8" height="132.4" fill="none" stroke="#5a5a5a" stroke-width="1.1"/>
<g fill="#d8283a"><circle cx="289.05" cy="227.02" r="1.0"/><circle cx="289.05" cy="236.74" r="1.0"/><circle cx="315.1" cy="235.77" r="1.0"/><circle cx="317.04" cy="234.6" r="1.0"/><circle cx="318.21" cy="237.52" r="1.0"/><circle cx="324.81" cy="235.57" r="1.0"/><circle cx="327.15" cy="233.82" r="1.0"/><circle cx="301.88" cy="241.99" r="1.0"/><circle cx="316.65" cy="242.37" r="1.0"/><circle cx="329.09" cy="241.99" r="1.0"/><circle cx="322.87" cy="250.73" r="1.0"/><circle cx="328.31" cy="248.98" r="1.0"/><circle cx="343.47" cy="245.48" r="1.0"/><circle cx="338.22" cy="253.84" r="1.0"/><circle cx="350.47" cy="252.29" r="1.0"/><circle cx="353.97" cy="255.2" r="1.0"/><circle cx="376.9" cy="251.9" r="1.0"/><circle cx="295.66" cy="255.98" r="1.0"/><circle cx="297.99" cy="257.92" r="1.0"/><circle cx="301.1" cy="256.95" r="1.0"/><circle cx="311.99" cy="258.9" r="1.0"/><circle cx="313.15" cy="258.51" r="1.0"/><circle cx="314.71" cy="259.09" r="1.0"/><circle cx="338.81" cy="261.42" r="1.0"/><circle cx="339.59" cy="261.81" r="1.0"/><circle cx="355.91" cy="264.73" r="1.0"/><circle cx="376.13" cy="265.7" r="1.0"/><circle cx="380.79" cy="265.31" r="1.0"/><circle cx="384.68" cy="266.48" r="1.0"/><circle cx="392.45" cy="268.81" r="1.0"/><circle cx="371.46" cy="268.42" r="1.0"/><circle cx="373.79" cy="271.14" r="1.0"/><circle cx="374.96" cy="270.75" r="1.0"/><circle cx="376.51" cy="271.14" r="1.0"/><circle cx="387.79" cy="272.5" r="1.0"/><circle cx="325.2" cy="272.31" r="1.0"/><circle cx="332.59" cy="280.86" r="1.0"/><circle cx="343.47" cy="281.83" r="1.0"/><circle cx="385.07" cy="278.91" r="1.0"/><circle cx="399.45" cy="275.8" r="1.0"/><circle cx="402.56" cy="275.03" r="1.0"/><circle cx="413.44" cy="258.51" r="1.0"/><circle cx="419.27" cy="274.06" r="1.0"/><circle cx="423.94" cy="281.83" r="1.0"/><circle cx="425.1" cy="282.8" r="1.0"/><circle cx="404.11" cy="284.75" r="1.0"/><circle cx="411.11" cy="288.05" r="1.0"/><circle cx="366.41" cy="284.75" r="1.0"/><circle cx="369.91" cy="286.69" r="1.0"/><circle cx="384.29" cy="287.86" r="1.0"/><circle cx="388.95" cy="293.3" r="1.0"/><circle cx="394.4" cy="293.1" r="1.0"/><circle cx="395.95" cy="290.97" r="1.0"/><circle cx="339.2" cy="290.19" r="1.0"/><circle cx="427.83" cy="292.52" r="1.0"/><circle cx="444.93" cy="292.91" r="1.0"/><circle cx="361.35" cy="309.43" r="1.0"/><circle cx="398.28" cy="312.73" r="1.0"/><circle cx="413.83" cy="311.37" r="1.0"/><circle cx="441.43" cy="315.07" r="1.0"/><circle cx="279.72" cy="255.2" r="1.0"/><circle cx="486.52" cy="294.85" r="1.0"/></g>
<path d="M304.22 342.3v2.8M357.52 342.3v2.8M410.82 342.3v2.8M464.11 342.3v2.8M279.7 212.76h-2.8M279.7 240.13h-2.8M279.7 267.5h-2.8M279.7 294.87h-2.8M279.7 322.24h-2.8M279.7 342.3v2.8M486.5 342.3v2.8M279.7 209.9h-2.8M279.7 342.3h-2.8" stroke="#5a5a5a" stroke-width="0.9" fill="none"/>
<g font-size="5.6"><text x="304.22" y="350.8" text-anchor="middle">−0.5</text><text x="357.52" y="350.8" text-anchor="middle">0.0</text><text x="410.82" y="350.8" text-anchor="middle">0.5</text><text x="464.11" y="350.8" text-anchor="middle">1.0</text><text x="276.1" y="214.76" text-anchor="end">1.0</text><text x="276.1" y="242.13" text-anchor="end">0.5</text><text x="276.1" y="269.5" text-anchor="end">0.0</text><text x="276.1" y="296.87" text-anchor="end">−0.5</text><text x="276.1" y="324.24" text-anchor="end">−1.0</text></g>
<text x="383.1" y="357.8" text-anchor="middle" font-size="5.5">Neutrophils_MCPCounter</text>
<text transform="translate(263.14 276.1) rotate(-90)" text-anchor="middle" font-size="5.5">NDUFB11</text>
<rect x="280.9" y="212.2" width="47.95" height="7.6" fill="#fff" fill-opacity="0.8"/>
<text x="282.1" y="217.7" font-size="5.2" style="stroke-width:0.2px">&lt;: p=8.4e-12 r=−0.73</text>
<clipPath id="c12"><rect x="534.5" y="210.1" width="205.4" height="132.2"/></clipPath>
<path fill="#f2b26e" d="M535.2 209.9L535.2 205.85L538.67 205.85L538.67 209.9ZM544.14 209.9L544.14 202.2L559.44 202.2L559.44 209.9ZM565.11 209.9L565.11 198.55L570.47 198.55L570.47 194.9L575.14 194.9L575.14 198.55L586.17 198.55L586.17 205.85L591.34 205.85L591.34 194.9L596.51 194.9L596.51 202.2L601.48 202.2L601.48 205.85L607.14 205.85L607.14 202.2L612.11 202.2L612.11 205.85L622.84 205.85L622.84 198.55L628.11 198.55L628.11 194.9L632.78 194.9L632.78 205.85L638.84 205.85L638.84 191.25L643.81 191.25L643.81 202.2L649.17 202.2L649.17 198.55L654.54 198.55L654.54 202.2L659.51 202.2L659.51 209.9ZM664.87 209.9L664.87 198.55L669.84 198.55L669.84 202.2L680.48 202.2L680.48 205.85L685.54 205.85L685.54 209.9ZM691.21 209.9L691.21 205.85L701.15 205.85L701.15 209.9ZM738.21 209.9L738.21 205.85L739.9 205.85L739.9 209.9Z"/>
<path fill="#f2b26e" d="M741.9 223.38L743.46 223.38L743.46 229.26L747.83 229.26L747.83 234.55L741.9 234.55ZM741.9 240.44L751.99 240.44L751.99 246.43L751.16 246.43L751.16 251.62L750.43 251.62L750.43 256.8L760.52 256.8L760.52 261.99L751.99 261.99L751.99 267.18L750.43 267.18L750.43 273.17L751.99 273.17L751.99 278.36L754.28 278.36L754.28 283.55L750.43 283.55L750.43 289.53L749.91 289.53L749.91 295.42L749.91 295.42L749.91 300.61L745.75 300.61L745.75 305.9L743.77 305.9L743.77 311.09L741.9 311.09ZM741.9 315.98L743.46 315.98L743.46 319.97L741.9 319.97Z"/>
<g clip-path="url(#c12)"><polygon fill="#e4e4e4" points="533.5,211.9 740.9,272.9 740.9,340.3 533.5,277.5"/><path d="M558.85 210.1V342.3M611.79 210.1V342.3M664.73 210.1V342.3M717.67 210.1V342.3M534.5 212.4H739.9M534.5 240.14H739.9M534.5 267.88H739.9M534.5 295.62H739.9M534.5 323.36H739.9" stroke="#ececec" stroke-width="0.8" fill="none"/><path d="M534.5 243.3L739.9 307.1" stroke="#fff" stroke-width="3.2" fill="none"/><path d="M534.5 243.3L739.9 307.1" stroke="#1c1c1c" stroke-width="1.4" fill="none"/></g>
<rect x="534.5" y="210.1" width="205.4" height="132.2" fill="none" stroke="#5a5a5a" stroke-width="1.1"/>
<g fill="#d8283a"><circle cx="543.66" cy="231.68" r="1.0"/><circle cx="550.66" cy="234.01" r="1.0"/><circle cx="556.1" cy="234.01" r="1.0"/><circle cx="583.69" cy="228.18" r="1.0"/><circle cx="543.85" cy="240.04" r="1.0"/><circle cx="571.25" cy="243.14" r="1.0"/><circle cx="581.75" cy="241.98" r="1.0"/><circle cx="579.8" cy="245.87" r="1.0"/><circle cx="573.2" cy="248.2" r="1.0"/><circle cx="567.76" cy="249.56" r="1.0"/><circle cx="556.49" cy="249.36" r="1.0"/><circle cx="592.63" cy="247.03" r="1.0"/><circle cx="608.56" cy="243.92" r="1.0"/><circle cx="605.07" cy="252.47" r="1.0"/><circle cx="641.99" cy="240.23" r="1.0"/><circle cx="638.88" cy="251.11" r="1.0"/><circle cx="626.05" cy="254.03" r="1.0"/><circle cx="630.72" cy="257.91" r="1.0"/><circle cx="621" cy="261.99" r="1.0"/><circle cx="628.77" cy="261.99" r="1.0"/><circle cx="634.99" cy="262.38" r="1.0"/><circle cx="646.65" cy="261.8" r="1.0"/><circle cx="639.66" cy="265.69" r="1.0"/><circle cx="631.49" cy="267.63" r="1.0"/><circle cx="566.98" cy="256.94" r="1.0"/><circle cx="569.7" cy="256.94" r="1.0"/><circle cx="579.8" cy="258.3" r="1.0"/><circle cx="582.91" cy="261.99" r="1.0"/><circle cx="552.6" cy="261.8" r="1.0"/><circle cx="594.18" cy="263.74" r="1.0"/><circle cx="577.47" cy="268.8" r="1.0"/><circle cx="594.18" cy="269.96" r="1.0"/><circle cx="598.07" cy="268.8" r="1.0"/><circle cx="615.95" cy="276.37" r="1.0"/><circle cx="630.72" cy="276.96" r="1.0"/><circle cx="643.54" cy="278.51" r="1.0"/><circle cx="656.76" cy="273.65" r="1.0"/><circle cx="652.48" cy="279.68" r="1.0"/><circle cx="667.64" cy="264.52" r="1.0"/><circle cx="677.74" cy="270.93" r="1.0"/><circle cx="673.08" cy="279.68" r="1.0"/><circle cx="678.91" cy="285.12" r="1.0"/><circle cx="570.09" cy="280.84" r="1.0"/><circle cx="572.03" cy="283.37" r="1.0"/><circle cx="598.07" cy="280.07" r="1.0"/><circle cx="593.02" cy="284.73" r="1.0"/><circle cx="610.51" cy="289.01" r="1.0"/><circle cx="627.61" cy="284.73" r="1.0"/><circle cx="624.5" cy="292.89" r="1.0"/><circle cx="650.15" cy="294.45" r="1.0"/><circle cx="653.65" cy="291.92" r="1.0"/><circle cx="670.36" cy="292.5" r="1.0"/><circle cx="638.49" cy="299.11" r="1.0"/><circle cx="658.7" cy="303.97" r="1.0"/><circle cx="681.63" cy="300.47" r="1.0"/><circle cx="695.62" cy="298.72" r="1.0"/><circle cx="668.03" cy="309.02" r="1.0"/><circle cx="587.19" cy="301.25" r="1.0"/><circle cx="699.12" cy="322.24" r="1.0"/><circle cx="534.33" cy="255.97" r="1.0"/><circle cx="739.93" cy="297.56" r="1.0"/></g>
<path d="M558.85 342.3v2.8M611.79 342.3v2.8M664.73 342.3v2.8M717.67 342.3v2.8M534.5 212.4h-2.8M534.5 240.14h-2.8M534.5 267.88h-2.8M534.5 295.62h-2.8M534.5 323.36h-2.8M534.5 342.3v2.8M739.9 342.3v2.8M534.5 210.1h-2.8M534.5 342.3h-2.8" stroke="#5a5a5a" stroke-width="0.9" fill="none"/>
<g font-size="5.6"><text x="558.85" y="350.8" text-anchor="middle">−0.5</text><text x="611.79" y="350.8" text-anchor="middle">0.0</text><text x="664.73" y="350.8" text-anchor="middle">0.5</text><text x="717.67" y="350.8" text-anchor="middle">1.0</text><text x="530.9" y="214.4" text-anchor="end">1.0</text><text x="530.9" y="242.14" text-anchor="end">0.5</text><text x="530.9" y="269.88" text-anchor="end">0.0</text><text x="530.9" y="297.62" text-anchor="end">−0.5</text><text x="530.9" y="325.36" text-anchor="end">−1.0</text></g>
<text x="637.2" y="357.8" text-anchor="middle" font-size="5.5">Neutrophils_MCPCounter</text>
<text transform="translate(517.94 276.2) rotate(-90)" text-anchor="middle" font-size="5.5">GTPBP3</text>
<rect x="535.7" y="212.4" width="45.35" height="7.6" fill="#fff" fill-opacity="0.8"/>
<text x="536.9" y="217.9" font-size="5.2" style="stroke-width:0.2px">&lt;: p=1.5e-8 r=−0.65</text>
<clipPath id="c13"><rect x="788.4" y="210.1" width="206" height="132.2"/></clipPath>
<path fill="#f2b26e" d="M789.1 209.9L789.1 205.85L792.59 205.85L792.59 209.9ZM798.07 209.9L798.07 202.2L813.41 202.2L813.41 209.9ZM819.1 209.9L819.1 198.55L824.48 198.55L824.48 194.9L829.16 194.9L829.16 198.55L840.22 198.55L840.22 205.85L845.41 205.85L845.41 194.9L850.59 194.9L850.59 202.2L855.57 202.2L855.57 205.85L861.25 205.85L861.25 202.2L866.24 202.2L866.24 205.85L877 205.85L877 198.55L882.28 198.55L882.28 194.9L886.97 194.9L886.97 205.85L893.04 205.85L893.04 191.25L898.03 191.25L898.03 202.2L903.41 202.2L903.41 198.55L908.79 198.55L908.79 202.2L913.77 202.2L913.77 209.9ZM919.16 209.9L919.16 198.55L924.14 198.55L924.14 202.2L934.8 202.2L934.8 205.85L939.89 205.85L939.89 209.9ZM945.57 209.9L945.57 205.85L955.53 205.85L955.53 209.9ZM992.71 209.9L992.71 205.85L994.4 205.85L994.4 209.9Z"/>
<path fill="#f2b26e" d="M996.4 236.4L998.79 236.4L998.79 240.5L1002.12 240.5L1002.12 244.6L997.54 244.6L997.54 249.5L1012 249.5L1012 253.1L996.4 253.1ZM996.4 257.6L999.31 257.6L999.31 261.7L996.4 261.7ZM996.4 266.6L1012 266.6L1012 273.9L1007.74 273.9L1007.74 287L1015.12 287L1015.12 295.1L1006.07 295.1L1006.07 304.1L1008.26 304.1L1008.26 312.3L1002.12 312.3L1002.12 316.4L999.31 316.4L999.31 324.5L996.4 324.5ZM996.4 329.4L999.31 329.4L999.31 333.5L996.4 333.5Z"/>
<g clip-path="url(#c13)"><polygon fill="#e4e4e4" points="787.4,288.5 995.4,211.9 995.4,266.3 787.4,340.8"/><path d="M812.82 210.1V342.3M865.92 210.1V342.3M919.01 210.1V342.3M972.1 210.1V342.3M788.4 223.6H994.4M788.4 244.8H994.4M788.4 266H994.4M788.4 287.2H994.4M788.4 308.4H994.4M788.4 329.6H994.4" stroke="#ececec" stroke-width="0.8" fill="none"/><path d="M788.4 315.3L994.4 237.4" stroke="#fff" stroke-width="3.2" fill="none"/><path d="M788.4 315.3L994.4 237.4" stroke="#1c1c1c" stroke-width="1.4" fill="none"/></g>
<rect x="788.4" y="210.1" width="206" height="132.2" fill="none" stroke="#5a5a5a" stroke-width="1.1"/>
<g fill="#d8283a"><circle cx="931.74" cy="238.48" r="1.0"/><circle cx="933.3" cy="243.73" r="1.0"/><circle cx="897.54" cy="250.14" r="1.0"/><circle cx="904.15" cy="250.14" r="1.0"/><circle cx="922.03" cy="252.08" r="1.0"/><circle cx="922.42" cy="253.25" r="1.0"/><circle cx="927.47" cy="250.14" r="1.0"/><circle cx="953.51" cy="247.61" r="1.0"/><circle cx="924.36" cy="259.08" r="1.0"/><circle cx="935.63" cy="266.46" r="1.0"/><circle cx="864.12" cy="269.57" r="1.0"/><circle cx="875" cy="269.18" r="1.0"/><circle cx="888.99" cy="270.74" r="1.0"/><circle cx="895.99" cy="268.8" r="1.0"/><circle cx="906.87" cy="269.18" r="1.0"/><circle cx="910.37" cy="270.54" r="1.0"/><circle cx="880.05" cy="274.63" r="1.0"/><circle cx="884.72" cy="273.65" r="1.0"/><circle cx="902.21" cy="273.65" r="1.0"/><circle cx="912.7" cy="275.4" r="1.0"/><circle cx="919.31" cy="275.79" r="1.0"/><circle cx="949.62" cy="271.52" r="1.0"/><circle cx="833.42" cy="281.62" r="1.0"/><circle cx="846.24" cy="280.46" r="1.0"/><circle cx="847.41" cy="279.68" r="1.0"/><circle cx="885.49" cy="278.32" r="1.0"/><circle cx="851.68" cy="287.84" r="1.0"/><circle cx="859.07" cy="287.06" r="1.0"/><circle cx="884.33" cy="285.51" r="1.0"/><circle cx="907.65" cy="287.06" r="1.0"/><circle cx="820.2" cy="289.01" r="1.0"/><circle cx="824.87" cy="288.23" r="1.0"/><circle cx="822.92" cy="290.95" r="1.0"/><circle cx="833.42" cy="289.39" r="1.0"/><circle cx="836.91" cy="294.84" r="1.0"/><circle cx="809.32" cy="294.64" r="1.0"/><circle cx="847.8" cy="292.5" r="1.0"/><circle cx="892.88" cy="293.47" r="1.0"/><circle cx="900.26" cy="294.84" r="1.0"/><circle cx="831.08" cy="299.69" r="1.0"/><circle cx="835.36" cy="301.83" r="1.0"/><circle cx="852.07" cy="298.92" r="1.0"/><circle cx="881.22" cy="298.33" r="1.0"/><circle cx="882.77" cy="303.58" r="1.0"/><circle cx="821.37" cy="303.77" r="1.0"/><circle cx="823.7" cy="303.97" r="1.0"/><circle cx="846.63" cy="304.16" r="1.0"/><circle cx="797.27" cy="304.75" r="1.0"/><circle cx="825.25" cy="308.83" r="1.0"/><circle cx="840.8" cy="308.63" r="1.0"/><circle cx="892.1" cy="306.49" r="1.0"/><circle cx="893.66" cy="309.02" r="1.0"/><circle cx="806.21" cy="310.77" r="1.0"/><circle cx="797.27" cy="313.88" r="1.0"/><circle cx="826.81" cy="312.91" r="1.0"/><circle cx="803.88" cy="318.15" r="1.0"/><circle cx="810.1" cy="321.85" r="1.0"/><circle cx="787.94" cy="330.79" r="1.0"/><circle cx="994.71" cy="241.2" r="1.0"/></g>
<path d="M812.82 342.3v2.8M865.92 342.3v2.8M919.01 342.3v2.8M972.1 342.3v2.8M788.4 223.6h-2.8M788.4 244.8h-2.8M788.4 266h-2.8M788.4 287.2h-2.8M788.4 308.4h-2.8M788.4 329.6h-2.8M788.4 342.3v2.8M994.4 342.3v2.8M788.4 210.1h-2.8M788.4 342.3h-2.8" stroke="#5a5a5a" stroke-width="0.9" fill="none"/>
<g font-size="5.6"><text x="812.82" y="350.8" text-anchor="middle">−0.5</text><text x="865.92" y="350.8" text-anchor="middle">0.0</text><text x="919.01" y="350.8" text-anchor="middle">0.5</text><text x="972.1" y="350.8" text-anchor="middle">1.0</text><text x="784.8" y="225.6" text-anchor="end">1.5</text><text x="784.8" y="246.8" text-anchor="end">1.0</text><text x="784.8" y="268" text-anchor="end">0.5</text><text x="784.8" y="289.2" text-anchor="end">0.0</text><text x="784.8" y="310.4" text-anchor="end">−0.5</text><text x="784.8" y="331.6" text-anchor="end">−1.0</text></g>
<text x="891.4" y="357.8" text-anchor="middle" font-size="5.5">Neutrophils_MCPCounter</text>
<text transform="translate(771.84 276.2) rotate(-90)" text-anchor="middle" font-size="5.5">SLC16A3</text>
<rect x="789.6" y="212.4" width="45.01" height="7.6" fill="#fff" fill-opacity="0.8"/>
<text x="790.8" y="217.9" font-size="5.2" style="stroke-width:0.2px">&lt;: p=2.3e-15 r=0.80</text>
<clipPath id="c14"><rect x="1042.4" y="210.1" width="206.2" height="132.2"/></clipPath>
<path fill="#f2b26e" d="M1043.1 209.9L1043.1 205.85L1046.59 205.85L1046.59 209.9ZM1052.08 209.9L1052.08 202.2L1067.44 202.2L1067.44 209.9ZM1073.13 209.9L1073.13 198.55L1078.51 198.55L1078.51 194.9L1083.2 194.9L1083.2 198.55L1094.27 198.55L1094.27 205.85L1099.46 205.85L1099.46 194.9L1104.65 194.9L1104.65 202.2L1109.64 202.2L1109.64 205.85L1115.32 205.85L1115.32 202.2L1120.31 202.2L1120.31 205.85L1131.08 205.85L1131.08 198.55L1136.37 198.55L1136.37 194.9L1141.06 194.9L1141.06 205.85L1147.15 205.85L1147.15 191.25L1152.13 191.25L1152.13 202.2L1157.52 202.2L1157.52 198.55L1162.91 198.55L1162.91 202.2L1167.9 202.2L1167.9 209.9ZM1173.28 209.9L1173.28 198.55L1178.27 198.55L1178.27 202.2L1188.94 202.2L1188.94 205.85L1194.03 205.85L1194.03 209.9ZM1199.72 209.9L1199.72 205.85L1209.69 205.85L1209.69 209.9ZM1246.9 209.9L1246.9 205.85L1248.6 205.85L1248.6 209.9Z"/>
<path fill="#f2b26e" d="M1250.6 226.59L1255.38 226.59L1255.38 231.4L1250.6 231.4ZM1250.6 236L1252.68 236L1252.68 241.1L1257.98 241.1L1257.98 245.31L1266.51 245.31L1266.51 249.61L1257.98 249.61L1257.98 254.71L1266.51 254.71L1266.51 258.92L1269.53 258.92L1269.53 263.22L1257.98 263.22L1257.98 268.33L1269.53 268.33L1269.53 272.63L1260.69 272.63L1260.69 276.83L1257.98 276.83L1257.98 281.94L1260.69 281.94L1260.69 286.14L1260.69 286.14L1260.69 290.44L1257.98 290.44L1257.98 294.75L1255.38 294.75L1255.38 299.85L1252.68 299.85L1252.68 304.15L1252.37 304.15L1252.37 313.46L1250.6 313.46ZM1250.6 317.76L1252.68 317.76L1252.68 321.97L1250.6 321.97ZM1250.6 331.37L1252.68 331.37L1252.68 335.58L1250.6 335.58Z"/>
<g clip-path="url(#c14)"><polygon fill="#e4e4e4" points="1041.4,214.3 1249.6,265.3 1249.6,340.3 1041.4,284.1"/><path d="M1066.85 210.1V342.3M1119.99 210.1V342.3M1173.14 210.1V342.3M1226.28 210.1V342.3M1042.4 222.69H1248.6M1042.4 245.31H1248.6M1042.4 267.92H1248.6M1042.4 290.54H1248.6M1042.4 313.16H1248.6M1042.4 335.78H1248.6" stroke="#ececec" stroke-width="0.8" fill="none"/><path d="M1042.4 246.9L1248.6 304" stroke="#fff" stroke-width="3.2" fill="none"/><path d="M1042.4 246.9L1248.6 304" stroke="#1c1c1c" stroke-width="1.4" fill="none"/></g>
<rect x="1042.4" y="210.1" width="206.2" height="132.2" fill="none" stroke="#5a5a5a" stroke-width="1.1"/>
<g fill="#d8283a"><circle cx="1089.75" cy="228.38" r="1.0"/><circle cx="1116.56" cy="228.38" r="1.0"/><circle cx="1078.87" cy="236.34" r="1.0"/><circle cx="1051.27" cy="243.34" r="1.0"/><circle cx="1051.66" cy="244.5" r="1.0"/><circle cx="1063.71" cy="246.84" r="1.0"/><circle cx="1080.81" cy="247.03" r="1.0"/><circle cx="1087.42" cy="246.64" r="1.0"/><circle cx="1091.69" cy="247.81" r="1.0"/><circle cx="1100.63" cy="247.42" r="1.0"/><circle cx="1146.88" cy="240.81" r="1.0"/><circle cx="1149.99" cy="246.06" r="1.0"/><circle cx="1075.76" cy="251.11" r="1.0"/><circle cx="1076.92" cy="252.08" r="1.0"/><circle cx="1064.49" cy="254.42" r="1.0"/><circle cx="1087.8" cy="256.75" r="1.0"/><circle cx="1090.91" cy="257.91" r="1.0"/><circle cx="1101.8" cy="260.25" r="1.0"/><circle cx="1106.07" cy="259.66" r="1.0"/><circle cx="1113.07" cy="257.33" r="1.0"/><circle cx="1118.51" cy="259.27" r="1.0"/><circle cx="1154.65" cy="255.97" r="1.0"/><circle cx="1176.03" cy="256.94" r="1.0"/><circle cx="1060.21" cy="261.99" r="1.0"/><circle cx="1139.49" cy="260.25" r="1.0"/><circle cx="1138.33" cy="262.97" r="1.0"/><circle cx="1136.77" cy="264.91" r="1.0"/><circle cx="1142.99" cy="265.88" r="1.0"/><circle cx="1151.54" cy="268.99" r="1.0"/><circle cx="1181.47" cy="265.3" r="1.0"/><circle cx="1074.59" cy="270.93" r="1.0"/><circle cx="1079.25" cy="269.96" r="1.0"/><circle cx="1101.8" cy="272.68" r="1.0"/><circle cx="1106.07" cy="274.82" r="1.0"/><circle cx="1129" cy="275.21" r="1.0"/><circle cx="1134.05" cy="270.16" r="1.0"/><circle cx="1135.22" cy="271.13" r="1.0"/><circle cx="1164.76" cy="270.54" r="1.0"/><circle cx="1186.13" cy="272.49" r="1.0"/><circle cx="1085.08" cy="281.04" r="1.0"/><circle cx="1095.19" cy="282.98" r="1.0"/><circle cx="1101.02" cy="282.98" r="1.0"/><circle cx="1156.6" cy="281.04" r="1.0"/><circle cx="1158.54" cy="284.15" r="1.0"/><circle cx="1187.3" cy="282.01" r="1.0"/><circle cx="1123.95" cy="287.84" r="1.0"/><circle cx="1138.72" cy="289.59" r="1.0"/><circle cx="1161.65" cy="294.06" r="1.0"/><circle cx="1173.7" cy="288.81" r="1.0"/><circle cx="1178.75" cy="287.84" r="1.0"/><circle cx="1078.09" cy="292.7" r="1.0"/><circle cx="1132.5" cy="301.05" r="1.0"/><circle cx="1190.02" cy="297.94" r="1.0"/><circle cx="1204.01" cy="297.36" r="1.0"/><circle cx="1166.7" cy="307.66" r="1.0"/><circle cx="1146.49" cy="311.55" r="1.0"/><circle cx="1207.51" cy="320.49" r="1.0"/><circle cx="1176.42" cy="334.48" r="1.0"/><circle cx="1042.33" cy="261.99" r="1.0"/><circle cx="1248.71" cy="294.64" r="1.0"/></g>
<path d="M1066.85 342.3v2.8M1119.99 342.3v2.8M1173.14 342.3v2.8M1226.28 342.3v2.8M1042.4 222.69h-2.8M1042.4 245.31h-2.8M1042.4 267.92h-2.8M1042.4 290.54h-2.8M1042.4 313.16h-2.8M1042.4 335.78h-2.8M1042.4 342.3v2.8M1248.6 342.3v2.8M1042.4 210.1h-2.8M1042.4 342.3h-2.8" stroke="#5a5a5a" stroke-width="0.9" fill="none"/>
<g font-size="5.6"><text x="1066.85" y="350.8" text-anchor="middle">−0.5</text><text x="1119.99" y="350.8" text-anchor="middle">0.0</text><text x="1173.14" y="350.8" text-anchor="middle">0.5</text><text x="1226.28" y="350.8" text-anchor="middle">1.0</text><text x="1038.8" y="224.69" text-anchor="end">1.0</text><text x="1038.8" y="247.31" text-anchor="end">0.5</text><text x="1038.8" y="269.92" text-anchor="end">0.0</text><text x="1038.8" y="292.54" text-anchor="end">−0.5</text><text x="1038.8" y="315.16" text-anchor="end">−1.0</text><text x="1038.8" y="337.78" text-anchor="end">−1.5</text></g>
<text x="1145.5" y="357.8" text-anchor="middle" font-size="5.5">Neutrophils_MCPCounter</text>
<text transform="translate(1025.84 276.2) rotate(-90)" text-anchor="middle" font-size="5.5">PUS1</text>
<rect x="1043.6" y="212.4" width="45.35" height="7.6" fill="#fff" fill-opacity="0.8"/>
<text x="1044.8" y="217.9" font-size="5.2" style="stroke-width:0.2px">&lt;: p=6.1e-7 r=−0.58</text>
<clipPath id="c15"><rect x="1299.4" y="210.1" width="210.6" height="132.2"/></clipPath>
<path fill="#f2b26e" d="M1300.11 209.9L1300.11 205.85L1303.68 205.85L1303.68 209.9ZM1309.28 209.9L1309.28 202.2L1324.97 202.2L1324.97 209.9ZM1330.78 209.9L1330.78 198.55L1336.28 198.55L1336.28 194.9L1341.07 194.9L1341.07 198.55L1352.38 198.55L1352.38 205.85L1357.68 205.85L1357.68 194.9L1362.98 194.9L1362.98 202.2L1368.07 202.2L1368.07 205.85L1373.88 205.85L1373.88 202.2L1378.97 202.2L1378.97 205.85L1389.98 205.85L1389.98 198.55L1395.38 198.55L1395.38 194.9L1400.17 194.9L1400.17 205.85L1406.38 205.85L1406.38 191.25L1411.48 191.25L1411.48 202.2L1416.98 202.2L1416.98 198.55L1422.48 198.55L1422.48 202.2L1427.57 202.2L1427.57 209.9ZM1433.08 209.9L1433.08 198.55L1438.17 198.55L1438.17 202.2L1449.07 202.2L1449.07 205.85L1454.27 205.85L1454.27 209.9ZM1460.08 209.9L1460.08 205.85L1470.26 205.85L1470.26 209.9ZM1508.27 209.9L1508.27 205.85L1510 205.85L1510 209.9Z"/>
<path fill="#f2b26e" d="M1512 230.2L1514.08 230.2L1514.08 233.3L1512 233.3ZM1512 243.8L1516.99 243.8L1516.99 251.5L1519.38 251.5L1519.38 254.9L1516.99 254.9L1516.99 258.3L1519.38 258.3L1519.38 261.7L1524.79 261.7L1524.79 265.1L1513.04 265.1L1513.04 268.5L1519.38 268.5L1519.38 271.9L1512 271.9ZM1512 275.3L1530.62 275.3L1530.62 278.7L1519.38 278.7L1519.38 285.5L1516.99 285.5L1516.99 289.8L1522.3 289.8L1522.3 296.6L1516.99 296.6L1516.99 300L1516.99 300L1516.99 305.1L1519.38 305.1L1519.38 311.1L1527.6 311.1L1527.6 314.5L1512 314.5ZM1512 317.9L1516.99 317.9L1516.99 321.3L1512 321.3Z"/>
<g clip-path="url(#c15)"><polygon fill="#e4e4e4" points="1298.4,266.3 1511,211.1 1511,288.5 1298.4,340.8"/><path d="M1324.37 210.1V342.3M1378.65 210.1V342.3M1432.92 210.1V342.3M1487.2 210.1V342.3M1299.4 212.2H1510M1299.4 247.4H1510M1299.4 282.6H1510M1299.4 317.8H1510" stroke="#ececec" stroke-width="0.8" fill="none"/><path d="M1299.4 304.3L1510 248.9" stroke="#fff" stroke-width="3.2" fill="none"/><path d="M1299.4 304.3L1510 248.9" stroke="#1c1c1c" stroke-width="1.4" fill="none"/></g>
<rect x="1299.4" y="210.1" width="210.6" height="132.2" fill="none" stroke="#5a5a5a" stroke-width="1.1"/>
<g fill="#d8283a"><circle cx="1447.38" cy="230.7" r="1.0"/><circle cx="1409.3" cy="245.86" r="1.0"/><circle cx="1417.85" cy="246.83" r="1.0"/><circle cx="1420.18" cy="251.3" r="1.0"/><circle cx="1438.44" cy="248.77" r="1.0"/><circle cx="1435.72" cy="252.85" r="1.0"/><circle cx="1441.55" cy="258.1" r="1.0"/><circle cx="1377.05" cy="250.91" r="1.0"/><circle cx="1359.95" cy="254.21" r="1.0"/><circle cx="1392.59" cy="256.74" r="1.0"/><circle cx="1387.54" cy="258.68" r="1.0"/><circle cx="1401.92" cy="256.35" r="1.0"/><circle cx="1382.49" cy="262.18" r="1.0"/><circle cx="1410.85" cy="261.79" r="1.0"/><circle cx="1424.45" cy="263.54" r="1.0"/><circle cx="1331.97" cy="271.31" r="1.0"/><circle cx="1343.24" cy="275.78" r="1.0"/><circle cx="1337.02" cy="278.3" r="1.0"/><circle cx="1335.08" cy="281.8" r="1.0"/><circle cx="1345.57" cy="282.58" r="1.0"/><circle cx="1359.95" cy="282.19" r="1.0"/><circle cx="1397.64" cy="271.89" r="1.0"/><circle cx="1415.9" cy="269.56" r="1.0"/><circle cx="1426.4" cy="275.97" r="1.0"/><circle cx="1421.34" cy="278.69" r="1.0"/><circle cx="1436.11" cy="276.94" r="1.0"/><circle cx="1450.1" cy="278.69" r="1.0"/><circle cx="1464.09" cy="265.09" r="1.0"/><circle cx="1445.82" cy="266.84" r="1.0"/><circle cx="1391.42" cy="279.08" r="1.0"/><circle cx="1397.64" cy="279.86" r="1.0"/><circle cx="1398.42" cy="285.88" r="1.0"/><circle cx="1433" cy="285.49" r="1.0"/><circle cx="1371.22" cy="288.8" r="1.0"/><circle cx="1333.14" cy="290.54" r="1.0"/><circle cx="1345.57" cy="291.52" r="1.0"/><circle cx="1359.17" cy="291.71" r="1.0"/><circle cx="1335.47" cy="294.04" r="1.0"/><circle cx="1352.95" cy="295.6" r="1.0"/><circle cx="1315.65" cy="293.65" r="1.0"/><circle cx="1308.66" cy="295.98" r="1.0"/><circle cx="1309.05" cy="297.54" r="1.0"/><circle cx="1321.09" cy="300.06" r="1.0"/><circle cx="1349.46" cy="302.98" r="1.0"/><circle cx="1395.7" cy="301.81" r="1.0"/><circle cx="1394.53" cy="303.76" r="1.0"/><circle cx="1317.59" cy="306.28" r="1.0"/><circle cx="1337.02" cy="307.06" r="1.0"/><circle cx="1338.58" cy="310.75" r="1.0"/><circle cx="1347.13" cy="311.72" r="1.0"/><circle cx="1348.68" cy="311.14" r="1.0"/><circle cx="1364.22" cy="311.92" r="1.0"/><circle cx="1406.58" cy="308.42" r="1.0"/><circle cx="1406.19" cy="309.97" r="1.0"/><circle cx="1405.8" cy="313.47" r="1.0"/><circle cx="1413.96" cy="313.08" r="1.0"/><circle cx="1321.87" cy="318.72" r="1.0"/><circle cx="1374.72" cy="318.13" r="1.0"/><circle cx="1299.33" cy="311.53" r="1.0"/><circle cx="1509.75" cy="262.76" r="1.0"/></g>
<path d="M1324.37 342.3v2.8M1378.65 342.3v2.8M1432.92 342.3v2.8M1487.2 342.3v2.8M1299.4 212.2h-2.8M1299.4 247.4h-2.8M1299.4 282.6h-2.8M1299.4 317.8h-2.8M1299.4 342.3v2.8M1510 342.3v2.8M1299.4 210.1h-2.8M1299.4 342.3h-2.8" stroke="#5a5a5a" stroke-width="0.9" fill="none"/>
<g font-size="5.6"><text x="1324.37" y="350.8" text-anchor="middle">−0.5</text><text x="1378.65" y="350.8" text-anchor="middle">0.0</text><text x="1432.92" y="350.8" text-anchor="middle">0.5</text><text x="1487.2" y="350.8" text-anchor="middle">1.0</text><text x="1295.8" y="214.2" text-anchor="end">2</text><text x="1295.8" y="249.4" text-anchor="end">1</text><text x="1295.8" y="284.6" text-anchor="end">0</text><text x="1295.8" y="319.8" text-anchor="end">−1</text></g>
<text x="1404.7" y="357.8" text-anchor="middle" font-size="5.5">Neutrophils_MCPCounter</text>
<text transform="translate(1287.04 276.2) rotate(-90)" text-anchor="middle" font-size="5.5">GRN</text>
<rect x="1300.6" y="212.4" width="42.41" height="7.6" fill="#fff" fill-opacity="0.8"/>
<text x="1301.8" y="217.9" font-size="5.2" style="stroke-width:0.2px">&lt;: p=2.6e-6 r=0.55</text>
<clipPath id="c20"><rect x="25" y="385.5" width="206.7" height="132.2"/></clipPath>
<path fill="#80d2e4" d="M25.4 385.3L25.4 381.2L30.7 381.2L30.7 385.3ZM39 385.3L39 377.5L42.8 377.5L42.8 385.3ZM47.1 385.3L47.1 381.2L51.2 381.2L51.2 373.8L58.7 373.8L58.7 381.2L67.2 381.2L67.2 373.8L70.9 373.8L70.9 381.2L75.2 381.2L75.2 370.1L78.9 370.1L78.9 381.2L82.9 381.2L82.9 385.3ZM87 385.3L87 373.8L90.9 373.8L90.9 377.5L95.1 377.5L95.1 373.8L98.8 373.8L98.8 377.5L103.1 377.5L103.1 366.4L107.1 366.4L107.1 370.1L110.9 370.1L110.9 381.2L118.9 381.2L118.9 385.3ZM123 385.3L123 377.5L126.8 377.5L126.8 381.2L131.1 381.2L131.1 377.5L138.6 377.5L138.6 385.3ZM142.9 385.3L142.9 381.2L146.9 381.2L146.9 377.5L150.8 377.5L150.8 385.3ZM163 385.3L163 381.2L170.9 381.2L170.9 385.3ZM175.2 385.3L175.2 381.2L183.4 381.2L183.4 373.8L187 373.8L187 385.3ZM219.2 385.3L219.2 377.5L223.2 377.5L223.2 385.3ZM230.5 385.3L230.5 381.2L231.7 381.2L231.7 385.3Z"/>
<path fill="#80d2e4" d="M233.7 406.34L235.88 406.34L235.88 410.69L237.34 410.69L237.34 417L233.7 417ZM233.7 429.52L241.08 429.52L241.08 432.83L236.72 432.83L236.72 437.18L238.9 437.18L238.9 441.11L235.57 441.11L235.57 445.46L238.9 445.46L238.9 449.29L241.08 449.29L241.08 452.6L236.72 452.6L236.72 456.53L241.08 456.53L241.08 460.87L239.42 460.87L239.42 464.7L242.75 464.7L242.75 468.01L251.59 468.01L251.59 471.84L245.56 471.84L245.56 475.77L236.72 475.77L236.72 479.6L233.7 479.6ZM233.7 483.95L240.56 483.95L240.56 487.88L235.26 487.88L235.26 491.71L243.37 491.71L243.37 495.02L233.7 495.02Z"/>
<g clip-path="url(#c20)"><polygon fill="#e4e4e4" points="24,458.3 232.7,387.6 232.7,446.8 24,515.7"/><path d="M62.49 385.5V517.7M102.59 385.5V517.7M142.68 385.5V517.7M182.78 385.5V517.7M222.88 385.5V517.7M25 386.27H231.7M25 405.72H231.7M25 425.18H231.7M25 444.63H231.7M25 464.08H231.7M25 483.54H231.7M25 502.99H231.7" stroke="#ececec" stroke-width="0.8" fill="none"/><path d="M25 488.4L231.7 415.4" stroke="#fff" stroke-width="3.2" fill="none"/><path d="M25 488.4L231.7 415.4" stroke="#1c1c1c" stroke-width="1.4" fill="none"/></g>
<rect x="25" y="385.5" width="206.7" height="132.2" fill="none" stroke="#5a5a5a" stroke-width="1.1"/>
<g fill="#d8283a"><circle cx="175.91" cy="406.51" r="1.0"/><circle cx="135.1" cy="413.12" r="1.0"/><circle cx="165.8" cy="415.84" r="1.0"/><circle cx="221.38" cy="413.51" r="1.0"/><circle cx="220.21" cy="416.62" r="1.0"/><circle cx="105.95" cy="430.22" r="1.0"/><circle cx="133.15" cy="432.94" r="1.0"/><circle cx="167.74" cy="434.3" r="1.0"/><circle cx="184.07" cy="431.97" r="1.0"/><circle cx="184.84" cy="436.05" r="1.0"/><circle cx="122.66" cy="440.52" r="1.0"/><circle cx="137.43" cy="439.74" r="1.0"/><circle cx="144.04" cy="438.97" r="1.0"/><circle cx="180.57" cy="442.46" r="1.0"/><circle cx="91.96" cy="445.18" r="1.0"/><circle cx="97.01" cy="447.13" r="1.0"/><circle cx="103.62" cy="445.77" r="1.0"/><circle cx="108.67" cy="449.07" r="1.0"/><circle cx="123.83" cy="451.99" r="1.0"/><circle cx="147.53" cy="450.24" r="1.0"/><circle cx="77.58" cy="456.84" r="1.0"/><circle cx="107.11" cy="456.46" r="1.0"/><circle cx="115.66" cy="456.07" r="1.0"/><circle cx="129.27" cy="456.07" r="1.0"/><circle cx="150.25" cy="457.82" r="1.0"/><circle cx="96.62" cy="460.15" r="1.0"/><circle cx="94.29" cy="463.06" r="1.0"/><circle cx="112.94" cy="462.09" r="1.0"/><circle cx="104.78" cy="464.03" r="1.0"/><circle cx="76.02" cy="465.2" r="1.0"/><circle cx="89.24" cy="467.34" r="1.0"/><circle cx="102.06" cy="468.89" r="1.0"/><circle cx="110.22" cy="467.92" r="1.0"/><circle cx="68.64" cy="466.95" r="1.0"/><circle cx="67.08" cy="469.47" r="1.0"/><circle cx="55.42" cy="468.7" r="1.0"/><circle cx="59.31" cy="470.25" r="1.0"/><circle cx="52.31" cy="472.39" r="1.0"/><circle cx="56.2" cy="472.78" r="1.0"/><circle cx="77.19" cy="470.64" r="1.0"/><circle cx="82.24" cy="471.22" r="1.0"/><circle cx="97.79" cy="471.81" r="1.0"/><circle cx="88.07" cy="474.92" r="1.0"/><circle cx="102.84" cy="474.72" r="1.0"/><circle cx="103.62" cy="475.89" r="1.0"/><circle cx="87.68" cy="479.39" r="1.0"/><circle cx="184.07" cy="469.86" r="1.0"/><circle cx="48.82" cy="484.05" r="1.0"/><circle cx="51.15" cy="483.86" r="1.0"/><circle cx="107.11" cy="484.44" r="1.0"/><circle cx="77.19" cy="486.77" r="1.0"/><circle cx="98.95" cy="488.32" r="1.0"/><circle cx="65.92" cy="491.43" r="1.0"/><circle cx="41.43" cy="494.74" r="1.0"/><circle cx="42.6" cy="494.93" r="1.0"/><circle cx="53.09" cy="493.77" r="1.0"/><circle cx="73.3" cy="494.74" r="1.0"/><circle cx="26.66" cy="465.01" r="1.0"/><circle cx="24.91" cy="468.5" r="1.0"/><circle cx="231.48" cy="430.22" r="1.0"/></g>
<path d="M62.49 517.7v2.8M102.59 517.7v2.8M142.68 517.7v2.8M182.78 517.7v2.8M222.88 517.7v2.8M25 386.27h-2.8M25 405.72h-2.8M25 425.18h-2.8M25 444.63h-2.8M25 464.08h-2.8M25 483.54h-2.8M25 502.99h-2.8M25 517.7v2.8M231.7 517.7v2.8M25 385.5h-2.8M25 517.7h-2.8" stroke="#5a5a5a" stroke-width="0.9" fill="none"/>
<g font-size="5.6"><text x="62.49" y="526.2" text-anchor="middle">0.2</text><text x="102.59" y="526.2" text-anchor="middle">0.3</text><text x="142.68" y="526.2" text-anchor="middle">0.4</text><text x="182.78" y="526.2" text-anchor="middle">0.5</text><text x="222.88" y="526.2" text-anchor="middle">0.6</text><text x="21.4" y="388.27" text-anchor="end">2.0</text><text x="21.4" y="407.72" text-anchor="end">1.5</text><text x="21.4" y="427.18" text-anchor="end">1.0</text><text x="21.4" y="446.63" text-anchor="end">0.5</text><text x="21.4" y="466.08" text-anchor="end">0.0</text><text x="21.4" y="485.54" text-anchor="end">−0.5</text><text x="21.4" y="504.99" text-anchor="end">−1.0</text></g>
<text x="128.35" y="533.2" text-anchor="middle" font-size="5.5">Neutrophils_quanTIseq</text>
<text transform="translate(8.44 451.6) rotate(-90)" text-anchor="middle" font-size="5.5">SLC2A3</text>
<rect x="26.2" y="387.8" width="45.01" height="7.6" fill="#fff" fill-opacity="0.8"/>
<text x="27.4" y="393.3" font-size="5.2" style="stroke-width:0.2px">&lt;: p=2.8e-13 r=0.77</text>
<clipPath id="c21"><rect x="279" y="385" width="206.7" height="132.7"/></clipPath>
<path fill="#80d2e4" d="M279.4 384.8L279.4 380.7L284.7 380.7L284.7 384.8ZM293 384.8L293 377L296.8 377L296.8 384.8ZM301.1 384.8L301.1 380.7L305.2 380.7L305.2 373.3L312.7 373.3L312.7 380.7L321.2 380.7L321.2 373.3L324.9 373.3L324.9 380.7L329.2 380.7L329.2 369.6L332.9 369.6L332.9 380.7L336.9 380.7L336.9 384.8ZM341 384.8L341 373.3L344.9 373.3L344.9 377L349.1 377L349.1 373.3L352.8 373.3L352.8 377L357.1 377L357.1 365.9L361.1 365.9L361.1 369.6L364.9 369.6L364.9 380.7L372.9 380.7L372.9 384.8ZM377 384.8L377 377L380.8 377L380.8 380.7L385.1 380.7L385.1 377L392.6 377L392.6 384.8ZM396.9 384.8L396.9 380.7L400.9 380.7L400.9 377L404.8 377L404.8 384.8ZM417 384.8L417 380.7L424.9 380.7L424.9 384.8ZM429.2 384.8L429.2 380.7L437.4 380.7L437.4 373.3L441 373.3L441 384.8ZM473.2 384.8L473.2 377L477.2 377L477.2 384.8ZM484.5 384.8L484.5 380.7L485.7 380.7L485.7 384.8Z"/>
<path fill="#80d2e4" d="M487.7 398.01L489.99 398.01L489.99 404.2L492.38 404.2L492.38 409.56L496.96 409.56L496.96 420.29L492.38 420.29L492.38 426.48L501.64 426.48L501.64 432.56L506.32 432.56L506.32 437.2L496.96 437.2L496.96 443.39L503.92 443.39L503.92 448.76L494.67 448.76L494.67 454.84L499.35 454.84L499.35 460.31L501.64 460.31L501.64 465.67L503.92 465.67L503.92 471.03L487.7 471.03ZM487.7 482.59L492.07 482.59L492.07 493.31L487.7 493.31Z"/>
<g clip-path="url(#c21)"><polygon fill="#e4e4e4" points="278,389 486.7,448.8 486.7,515.7 278,452.4"/><path d="M316.49 385V517.7M356.59 385V517.7M396.68 385V517.7M436.78 385V517.7M476.88 385V517.7M279 386.46H485.7M279 414.72H485.7M279 442.98H485.7M279 471.24H485.7M279 499.5H485.7" stroke="#ececec" stroke-width="0.8" fill="none"/><path d="M279 418.7L485.7 483.3" stroke="#fff" stroke-width="3.2" fill="none"/><path d="M279 418.7L485.7 483.3" stroke="#1c1c1c" stroke-width="1.4" fill="none"/></g>
<rect x="279" y="385" width="206.7" height="132.7" fill="none" stroke="#5a5a5a" stroke-width="1.1"/>
<g fill="#d8283a"><circle cx="312.93" cy="401.46" r="1.0"/><circle cx="280.28" cy="410.79" r="1.0"/><circle cx="320.7" cy="408.85" r="1.0"/><circle cx="336.25" cy="408.27" r="1.0"/><circle cx="362.69" cy="410.21" r="1.0"/><circle cx="305.93" cy="412.15" r="1.0"/><circle cx="309.04" cy="411.57" r="1.0"/><circle cx="296.21" cy="416.62" r="1.0"/><circle cx="322.65" cy="417.01" r="1.0"/><circle cx="330.03" cy="416.43" r="1.0"/><circle cx="331.2" cy="420.12" r="1.0"/><circle cx="330.81" cy="424.01" r="1.0"/><circle cx="341.31" cy="430.42" r="1.0"/><circle cx="358.02" cy="429.06" r="1.0"/><circle cx="364.24" cy="427.51" r="1.0"/><circle cx="366.96" cy="427.31" r="1.0"/><circle cx="295.05" cy="430.42" r="1.0"/><circle cx="305.15" cy="432.17" r="1.0"/><circle cx="307.1" cy="431.2" r="1.0"/><circle cx="310.6" cy="433.73" r="1.0"/><circle cx="309.82" cy="437.23" r="1.0"/><circle cx="319.54" cy="433.15" r="1.0"/><circle cx="322.26" cy="436.06" r="1.0"/><circle cx="327.7" cy="433.92" r="1.0"/><circle cx="331.59" cy="434.51" r="1.0"/><circle cx="357.24" cy="440.53" r="1.0"/><circle cx="360.74" cy="442.09" r="1.0"/><circle cx="383.29" cy="440.92" r="1.0"/><circle cx="385.23" cy="443.84" r="1.0"/><circle cx="391.06" cy="440.92" r="1.0"/><circle cx="347.91" cy="444.42" r="1.0"/><circle cx="350.64" cy="446.17" r="1.0"/><circle cx="356.86" cy="446.75" r="1.0"/><circle cx="360.74" cy="446.75" r="1.0"/><circle cx="342.08" cy="447.92" r="1.0"/><circle cx="397.67" cy="448.11" r="1.0"/><circle cx="387.18" cy="450.83" r="1.0"/><circle cx="389.12" cy="449.86" r="1.0"/><circle cx="369.29" cy="451.61" r="1.0"/><circle cx="351.41" cy="454.72" r="1.0"/><circle cx="352.97" cy="457.83" r="1.0"/><circle cx="302.43" cy="456.86" r="1.0"/><circle cx="355.69" cy="460.75" r="1.0"/><circle cx="357.24" cy="462.69" r="1.0"/><circle cx="359.97" cy="460.94" r="1.0"/><circle cx="343.25" cy="464.24" r="1.0"/><circle cx="345.58" cy="469.88" r="1.0"/><circle cx="350.25" cy="466.58" r="1.0"/><circle cx="376.68" cy="464.63" r="1.0"/><circle cx="377.85" cy="467.74" r="1.0"/><circle cx="401.17" cy="469.69" r="1.0"/><circle cx="419.44" cy="433.73" r="1.0"/><circle cx="429.55" cy="457.44" r="1.0"/><circle cx="437.71" cy="462.88" r="1.0"/><circle cx="438.1" cy="468.91" r="1.0"/><circle cx="473.86" cy="458.8" r="1.0"/><circle cx="475.42" cy="471.05" r="1.0"/><circle cx="404.28" cy="486.4" r="1.0"/><circle cx="421.77" cy="492.23" r="1.0"/><circle cx="434.21" cy="489.71" r="1.0"/><circle cx="438.88" cy="488.15" r="1.0"/><circle cx="278.72" cy="425.37" r="1.0"/><circle cx="485.52" cy="469.3" r="1.0"/></g>
<path d="M316.49 517.7v2.8M356.59 517.7v2.8M396.68 517.7v2.8M436.78 517.7v2.8M476.88 517.7v2.8M279 386.46h-2.8M279 414.72h-2.8M279 442.98h-2.8M279 471.24h-2.8M279 499.5h-2.8M279 517.7v2.8M485.7 517.7v2.8M279 385h-2.8M279 517.7h-2.8" stroke="#5a5a5a" stroke-width="0.9" fill="none"/>
<g font-size="5.6"><text x="316.49" y="526.2" text-anchor="middle">0.2</text><text x="356.59" y="526.2" text-anchor="middle">0.3</text><text x="396.68" y="526.2" text-anchor="middle">0.4</text><text x="436.78" y="526.2" text-anchor="middle">0.5</text><text x="476.88" y="526.2" text-anchor="middle">0.6</text><text x="275.4" y="388.46" text-anchor="end">1.0</text><text x="275.4" y="416.72" text-anchor="end">0.5</text><text x="275.4" y="444.98" text-anchor="end">0.0</text><text x="275.4" y="473.24" text-anchor="end">−0.5</text><text x="275.4" y="501.5" text-anchor="end">−1.0</text></g>
<text x="382.35" y="533.2" text-anchor="middle" font-size="5.5">Neutrophils_quanTIseq</text>
<text transform="translate(262.44 451.35) rotate(-90)" text-anchor="middle" font-size="5.5">NDUFB11</text>
<rect x="280.2" y="387.3" width="47.95" height="7.6" fill="#fff" fill-opacity="0.8"/>
<text x="281.4" y="392.8" font-size="5.2" style="stroke-width:0.2px">&lt;: p=8.4e-10 r=−0.68</text>
<clipPath id="c22"><rect x="534.2" y="385" width="206.2" height="132.7"/></clipPath>
<path fill="#80d2e4" d="M534.6 384.8L534.6 380.7L539.89 380.7L539.89 384.8ZM548.17 384.8L548.17 377L551.96 377L551.96 384.8ZM556.25 384.8L556.25 380.7L560.34 380.7L560.34 373.3L567.82 373.3L567.82 380.7L576.3 380.7L576.3 373.3L579.99 373.3L579.99 380.7L584.28 380.7L584.28 369.6L587.97 369.6L587.97 380.7L591.96 380.7L591.96 384.8ZM596.05 384.8L596.05 373.3L599.94 373.3L599.94 377L604.13 377L604.13 373.3L607.82 373.3L607.82 377L612.11 377L612.11 365.9L616.1 365.9L616.1 369.6L619.89 369.6L619.89 380.7L627.87 380.7L627.87 384.8ZM631.96 384.8L631.96 377L635.75 377L635.75 380.7L640.04 380.7L640.04 377L647.53 377L647.53 384.8ZM651.81 384.8L651.81 380.7L655.81 380.7L655.81 377L659.7 377L659.7 384.8ZM671.87 384.8L671.87 380.7L679.75 380.7L679.75 384.8ZM684.04 384.8L684.04 380.7L692.22 380.7L692.22 373.3L695.81 373.3L695.81 384.8ZM727.93 384.8L727.93 377L731.92 377L731.92 384.8ZM739.2 384.8L739.2 380.7L740.4 380.7L740.4 384.8Z"/>
<path fill="#80d2e4" d="M742.4 396.84L743.96 396.84L743.96 403.09L748.33 403.09L748.33 408.7L742.4 408.7ZM742.4 414.95L752.49 414.95L752.49 421.3L751.66 421.3L751.66 426.8L750.93 426.8L750.93 432.31L761.02 432.31L761.02 437.81L752.49 437.81L752.49 443.32L750.93 443.32L750.93 449.67L752.49 449.67L752.49 455.18L754.78 455.18L754.78 460.68L750.93 460.68L750.93 467.03L750.41 467.03L750.41 473.28L750.41 473.28L750.41 478.78L746.25 478.78L746.25 484.39L744.27 484.39L744.27 489.9L742.4 489.9ZM742.4 495.09L743.96 495.09L743.96 499.32L742.4 499.32Z"/>
<g clip-path="url(#c22)"><polygon fill="#e4e4e4" points="533.2,386.9 741.4,435.3 741.4,515.7 533.2,465.2"/><path d="M571.6 385V517.7M611.6 385V517.7M651.6 385V517.7M691.6 385V517.7M731.6 385V517.7M534.2 414.63H740.4M534.2 444.06H740.4M534.2 473.49H740.4M534.2 502.92H740.4" stroke="#ececec" stroke-width="0.8" fill="none"/><path d="M534.2 425.6L740.4 476.1" stroke="#fff" stroke-width="3.2" fill="none"/><path d="M534.2 425.6L740.4 476.1" stroke="#1c1c1c" stroke-width="1.4" fill="none"/></g>
<rect x="534.2" y="385" width="206.2" height="132.7" fill="none" stroke="#5a5a5a" stroke-width="1.1"/>
<g fill="#d8283a"><circle cx="584.86" cy="402.04" r="1.0"/><circle cx="563.87" cy="405.74" r="1.0"/><circle cx="559.98" cy="408.07" r="1.0"/><circle cx="561.93" cy="408.07" r="1.0"/><circle cx="567.76" cy="414.48" r="1.0"/><circle cx="577.47" cy="417.98" r="1.0"/><circle cx="591.08" cy="416.62" r="1.0"/><circle cx="596.13" cy="418.95" r="1.0"/><circle cx="652.87" cy="414.87" r="1.0"/><circle cx="551.04" cy="424.59" r="1.0"/><circle cx="560.76" cy="423.23" r="1.0"/><circle cx="565.42" cy="424.78" r="1.0"/><circle cx="612.84" cy="421.87" r="1.0"/><circle cx="617.5" cy="420.5" r="1.0"/><circle cx="615.95" cy="426.53" r="1.0"/><circle cx="619.06" cy="427.69" r="1.0"/><circle cx="550.27" cy="431.58" r="1.0"/><circle cx="581.75" cy="432.75" r="1.0"/><circle cx="586.02" cy="432.75" r="1.0"/><circle cx="596.9" cy="434.11" r="1.0"/><circle cx="640.05" cy="429.64" r="1.0"/><circle cx="638.1" cy="433.52" r="1.0"/><circle cx="645.87" cy="438.19" r="1.0"/><circle cx="574.36" cy="437.41" r="1.0"/><circle cx="603.12" cy="437.8" r="1.0"/><circle cx="605.46" cy="438.19" r="1.0"/><circle cx="605.46" cy="440.13" r="1.0"/><circle cx="606.23" cy="441.88" r="1.0"/><circle cx="610.9" cy="437.99" r="1.0"/><circle cx="586.02" cy="444.99" r="1.0"/><circle cx="621.78" cy="443.82" r="1.0"/><circle cx="564.65" cy="446.54" r="1.0"/><circle cx="674.64" cy="440.71" r="1.0"/><circle cx="684.74" cy="447.52" r="1.0"/><circle cx="641.99" cy="450.43" r="1.0"/><circle cx="659.09" cy="453.15" r="1.0"/><circle cx="615.95" cy="453.73" r="1.0"/><circle cx="600.4" cy="455.68" r="1.0"/><circle cx="607.4" cy="457.04" r="1.0"/><circle cx="643.93" cy="456.65" r="1.0"/><circle cx="689.4" cy="456.26" r="1.0"/><circle cx="575.14" cy="460.73" r="1.0"/><circle cx="577.47" cy="462.09" r="1.0"/><circle cx="611.67" cy="462.09" r="1.0"/><circle cx="631.49" cy="460.92" r="1.0"/><circle cx="612.06" cy="466.56" r="1.0"/><circle cx="612.06" cy="470.84" r="1.0"/><circle cx="624.5" cy="469.67" r="1.0"/><circle cx="632.66" cy="472.2" r="1.0"/><circle cx="692.9" cy="470.45" r="1.0"/><circle cx="729.05" cy="462.28" r="1.0"/><circle cx="730.21" cy="475.89" r="1.0"/><circle cx="598.07" cy="477.25" r="1.0"/><circle cx="557.26" cy="479.58" r="1.0"/><circle cx="614.78" cy="482.49" r="1.0"/><circle cx="676.58" cy="476.86" r="1.0"/><circle cx="692.9" cy="478.8" r="1.0"/><circle cx="693.68" cy="487.74" r="1.0"/><circle cx="533.94" cy="444.99" r="1.0"/><circle cx="534.72" cy="457.82" r="1.0"/><circle cx="740.32" cy="501.93" r="1.0"/></g>
<path d="M571.6 517.7v2.8M611.6 517.7v2.8M651.6 517.7v2.8M691.6 517.7v2.8M731.6 517.7v2.8M534.2 414.63h-2.8M534.2 444.06h-2.8M534.2 473.49h-2.8M534.2 502.92h-2.8M534.2 517.7v2.8M740.4 517.7v2.8M534.2 385h-2.8M534.2 517.7h-2.8" stroke="#5a5a5a" stroke-width="0.9" fill="none"/>
<g font-size="5.6"><text x="571.6" y="526.2" text-anchor="middle">0.2</text><text x="611.6" y="526.2" text-anchor="middle">0.3</text><text x="651.6" y="526.2" text-anchor="middle">0.4</text><text x="691.6" y="526.2" text-anchor="middle">0.5</text><text x="731.6" y="526.2" text-anchor="middle">0.6</text><text x="530.6" y="416.63" text-anchor="end">0.5</text><text x="530.6" y="446.06" text-anchor="end">0.0</text><text x="530.6" y="475.49" text-anchor="end">−0.5</text><text x="530.6" y="504.92" text-anchor="end">−1.0</text></g>
<text x="637.3" y="533.2" text-anchor="middle" font-size="5.5">Neutrophils_quanTIseq</text>
<text transform="translate(517.64 451.35) rotate(-90)" text-anchor="middle" font-size="5.5">GTPBP3</text>
<rect x="535.4" y="387.3" width="45.35" height="7.6" fill="#fff" fill-opacity="0.8"/>
<text x="536.6" y="392.8" font-size="5.2" style="stroke-width:0.2px">&lt;: p=1.2e-5 r=−0.52</text>
<clipPath id="c23"><rect x="787.9" y="385" width="206.5" height="132.7"/></clipPath>
<path fill="#80d2e4" d="M788.3 384.8L788.3 380.7L793.59 380.7L793.59 384.8ZM801.89 384.8L801.89 377L805.68 377L805.68 384.8ZM809.98 384.8L809.98 380.7L814.07 380.7L814.07 373.3L821.57 373.3L821.57 380.7L830.06 380.7L830.06 373.3L833.76 373.3L833.76 380.7L838.05 380.7L838.05 369.6L841.75 369.6L841.75 380.7L845.74 380.7L845.74 384.8ZM849.84 384.8L849.84 373.3L853.74 373.3L853.74 377L857.93 377L857.93 373.3L861.63 373.3L861.63 377L865.92 377L865.92 365.9L869.92 365.9L869.92 369.6L873.72 369.6L873.72 380.7L881.71 380.7L881.71 384.8ZM885.81 384.8L885.81 377L889.6 377L889.6 380.7L893.9 380.7L893.9 377L901.39 377L901.39 384.8ZM905.69 384.8L905.69 380.7L909.68 380.7L909.68 377L913.58 377L913.58 384.8ZM925.77 384.8L925.77 380.7L933.66 380.7L933.66 384.8ZM937.95 384.8L937.95 380.7L946.15 380.7L946.15 373.3L949.74 373.3L949.74 384.8ZM981.91 384.8L981.91 377L985.91 377L985.91 384.8ZM993.2 384.8L993.2 380.7L994.4 380.7L994.4 384.8Z"/>
<path fill="#80d2e4" d="M996.4 410.31L998.79 410.31L998.79 414.57L1002.12 414.57L1002.12 418.84L997.54 418.84L997.54 423.93L1012 423.93L1012 427.68L996.4 427.68ZM996.4 432.36L999.31 432.36L999.31 436.62L996.4 436.62ZM996.4 441.72L1012 441.72L1012 449.31L1007.74 449.31L1007.74 462.93L1015.12 462.93L1015.12 471.36L1006.07 471.36L1006.07 480.72L1008.26 480.72L1008.26 489.25L1002.12 489.25L1002.12 493.51L999.31 493.51L999.31 501.93L996.4 501.93ZM996.4 507.03L999.31 507.03L999.31 511.29L996.4 511.29Z"/>
<g clip-path="url(#c23)"><polygon fill="#e4e4e4" points="786.9,464.6 995.4,387.6 995.4,441.7 786.9,516.2"/><path d="M825.35 385V517.7M865.41 385V517.7M905.47 385V517.7M945.53 385V517.7M985.59 385V517.7M787.9 397H994.4M787.9 419.04H994.4M787.9 441.09H994.4M787.9 463.14H994.4M787.9 485.19H994.4M787.9 507.24H994.4" stroke="#ececec" stroke-width="0.8" fill="none"/><path d="M787.9 492L994.4 411.8" stroke="#fff" stroke-width="3.2" fill="none"/><path d="M787.9 492L994.4 411.8" stroke="#1c1c1c" stroke-width="1.4" fill="none"/></g>
<rect x="787.9" y="385" width="206.5" height="132.7" fill="none" stroke="#5a5a5a" stroke-width="1.1"/>
<g fill="#d8283a"><circle cx="938.74" cy="412.54" r="1.0"/><circle cx="983.05" cy="417.98" r="1.0"/><circle cx="854.4" cy="424.59" r="1.0"/><circle cx="886.66" cy="424.59" r="1.0"/><circle cx="897.93" cy="424.59" r="1.0"/><circle cx="928.25" cy="426.53" r="1.0"/><circle cx="947.68" cy="427.69" r="1.0"/><circle cx="946.9" cy="433.91" r="1.0"/><circle cx="946.9" cy="441.69" r="1.0"/><circle cx="943.4" cy="444.41" r="1.0"/><circle cx="930.58" cy="446.54" r="1.0"/><circle cx="864.9" cy="444.6" r="1.0"/><circle cx="866.06" cy="444.8" r="1.0"/><circle cx="895.99" cy="445.96" r="1.0"/><circle cx="900.26" cy="445.96" r="1.0"/><circle cx="906.87" cy="444.02" r="1.0"/><circle cx="892.1" cy="449.07" r="1.0"/><circle cx="909.98" cy="449.27" r="1.0"/><circle cx="885.49" cy="451.4" r="1.0"/><circle cx="868.78" cy="450.82" r="1.0"/><circle cx="875.78" cy="454.12" r="1.0"/><circle cx="859.07" cy="455.29" r="1.0"/><circle cx="850.9" cy="457.43" r="1.0"/><circle cx="866.84" cy="456.46" r="1.0"/><circle cx="866.06" cy="457.23" r="1.0"/><circle cx="913.09" cy="460.15" r="1.0"/><circle cx="869.95" cy="461.12" r="1.0"/><circle cx="873.06" cy="462.67" r="1.0"/><circle cx="878.5" cy="463.06" r="1.0"/><circle cx="850.13" cy="463.06" r="1.0"/><circle cx="831.47" cy="464.23" r="1.0"/><circle cx="836.14" cy="465.2" r="1.0"/><circle cx="840.02" cy="463.84" r="1.0"/><circle cx="840.02" cy="467.14" r="1.0"/><circle cx="871.5" cy="465.39" r="1.0"/><circle cx="818.65" cy="468.89" r="1.0"/><circle cx="813.98" cy="471.03" r="1.0"/><circle cx="838.86" cy="471.03" r="1.0"/><circle cx="857.12" cy="471.03" r="1.0"/><circle cx="869.95" cy="469.67" r="1.0"/><circle cx="865.67" cy="474.92" r="1.0"/><circle cx="861.4" cy="475.5" r="1.0"/><circle cx="845.08" cy="478.61" r="1.0"/><circle cx="859.46" cy="480.55" r="1.0"/><circle cx="852.07" cy="483.27" r="1.0"/><circle cx="860.23" cy="486.19" r="1.0"/><circle cx="831.47" cy="481.13" r="1.0"/><circle cx="818.26" cy="481.52" r="1.0"/><circle cx="819.42" cy="481.13" r="1.0"/><circle cx="829.92" cy="485.6" r="1.0"/><circle cx="828.36" cy="487.94" r="1.0"/><circle cx="811.26" cy="485.6" r="1.0"/><circle cx="814.76" cy="489.88" r="1.0"/><circle cx="821.76" cy="491.43" r="1.0"/><circle cx="815.93" cy="495.32" r="1.0"/><circle cx="805.04" cy="499.6" r="1.0"/><circle cx="804.27" cy="509.12" r="1.0"/><circle cx="788.72" cy="480.75" r="1.0"/><circle cx="787.94" cy="475.89" r="1.0"/><circle cx="994.32" cy="422.06" r="1.0"/></g>
<path d="M825.35 517.7v2.8M865.41 517.7v2.8M905.47 517.7v2.8M945.53 517.7v2.8M985.59 517.7v2.8M787.9 397h-2.8M787.9 419.04h-2.8M787.9 441.09h-2.8M787.9 463.14h-2.8M787.9 485.19h-2.8M787.9 507.24h-2.8M787.9 517.7v2.8M994.4 517.7v2.8M787.9 385h-2.8M787.9 517.7h-2.8" stroke="#5a5a5a" stroke-width="0.9" fill="none"/>
<g font-size="5.6"><text x="825.35" y="526.2" text-anchor="middle">0.2</text><text x="865.41" y="526.2" text-anchor="middle">0.3</text><text x="905.47" y="526.2" text-anchor="middle">0.4</text><text x="945.53" y="526.2" text-anchor="middle">0.5</text><text x="985.59" y="526.2" text-anchor="middle">0.6</text><text x="784.3" y="399" text-anchor="end">1.5</text><text x="784.3" y="421.04" text-anchor="end">1.0</text><text x="784.3" y="443.09" text-anchor="end">0.5</text><text x="784.3" y="465.14" text-anchor="end">0.0</text><text x="784.3" y="487.19" text-anchor="end">−0.5</text><text x="784.3" y="509.24" text-anchor="end">−1.0</text></g>
<text x="891.15" y="533.2" text-anchor="middle" font-size="5.5">Neutrophils_quanTIseq</text>
<text transform="translate(771.34 451.35) rotate(-90)" text-anchor="middle" font-size="5.5">SLC16A3</text>
<rect x="789.1" y="387.3" width="45.01" height="7.6" fill="#fff" fill-opacity="0.8"/>
<text x="790.3" y="392.8" font-size="5.2" style="stroke-width:0.2px">&lt;: p=2.6e-17 r=0.83</text>
<clipPath id="c24"><rect x="1041.9" y="385" width="206.7" height="132.7"/></clipPath>
<path fill="#80d2e4" d="M1042.3 384.8L1042.3 380.7L1047.6 380.7L1047.6 384.8ZM1055.9 384.8L1055.9 377L1059.7 377L1059.7 384.8ZM1064 384.8L1064 380.7L1068.1 380.7L1068.1 373.3L1075.6 373.3L1075.6 380.7L1084.1 380.7L1084.1 373.3L1087.8 373.3L1087.8 380.7L1092.1 380.7L1092.1 369.6L1095.8 369.6L1095.8 380.7L1099.8 380.7L1099.8 384.8ZM1103.9 384.8L1103.9 373.3L1107.8 373.3L1107.8 377L1112 377L1112 373.3L1115.7 373.3L1115.7 377L1120 377L1120 365.9L1124 365.9L1124 369.6L1127.8 369.6L1127.8 380.7L1135.8 380.7L1135.8 384.8ZM1139.9 384.8L1139.9 377L1143.7 377L1143.7 380.7L1148 380.7L1148 377L1155.5 377L1155.5 384.8ZM1159.8 384.8L1159.8 380.7L1163.8 380.7L1163.8 377L1167.7 377L1167.7 384.8ZM1179.9 384.8L1179.9 380.7L1187.8 380.7L1187.8 384.8ZM1192.1 384.8L1192.1 380.7L1200.3 380.7L1200.3 373.3L1203.9 373.3L1203.9 384.8ZM1236.1 384.8L1236.1 377L1240.1 377L1240.1 384.8ZM1247.4 384.8L1247.4 380.7L1248.6 380.7L1248.6 384.8Z"/>
<path fill="#80d2e4" d="M1250.6 399.92L1255.38 399.92L1255.38 405.04L1250.6 405.04ZM1250.6 409.94L1252.68 409.94L1252.68 415.37L1257.98 415.37L1257.98 419.85L1266.51 419.85L1266.51 424.43L1257.98 424.43L1257.98 429.86L1266.51 429.86L1266.51 434.34L1269.53 434.34L1269.53 438.92L1257.98 438.92L1257.98 444.35L1269.53 444.35L1269.53 448.93L1260.69 448.93L1260.69 453.41L1257.98 453.41L1257.98 458.84L1260.69 458.84L1260.69 463.32L1260.69 463.32L1260.69 467.9L1257.98 467.9L1257.98 472.48L1255.38 472.48L1255.38 477.92L1252.68 477.92L1252.68 482.5L1252.37 482.5L1252.37 492.41L1250.6 492.41ZM1250.6 496.99L1252.68 496.99L1252.68 501.46L1250.6 501.46ZM1250.6 511.48L1252.68 511.48L1252.68 515.95L1250.6 515.95Z"/>
<g clip-path="url(#c24)"><polygon fill="#e4e4e4" points="1040.9,387.3 1249.6,431.4 1249.6,515.7 1040.9,468.5"/><path d="M1079.39 385V517.7M1119.49 385V517.7M1159.58 385V517.7M1199.68 385V517.7M1239.78 385V517.7M1041.9 395.77H1248.6M1041.9 419.85H1248.6M1041.9 443.93H1248.6M1041.9 468.01H1248.6M1041.9 492.09H1248.6M1041.9 516.17H1248.6" stroke="#ececec" stroke-width="0.8" fill="none"/><path d="M1041.9 427.1L1248.6 474.3" stroke="#fff" stroke-width="3.2" fill="none"/><path d="M1041.9 427.1L1248.6 474.3" stroke="#1c1c1c" stroke-width="1.4" fill="none"/></g>
<rect x="1041.9" y="385" width="206.7" height="132.7" fill="none" stroke="#5a5a5a" stroke-width="1.1"/>
<g fill="#d8283a"><circle cx="1099.08" cy="402.04" r="1.0"/><circle cx="1104.13" cy="402.04" r="1.0"/><circle cx="1085.47" cy="410.59" r="1.0"/><circle cx="1123.95" cy="415.26" r="1.0"/><circle cx="1076.14" cy="417.59" r="1.0"/><circle cx="1071.87" cy="419.34" r="1.0"/><circle cx="1067.98" cy="421.48" r="1.0"/><circle cx="1069.15" cy="421.87" r="1.0"/><circle cx="1092.86" cy="422.64" r="1.0"/><circle cx="1121.23" cy="422.06" r="1.0"/><circle cx="1125.5" cy="421.28" r="1.0"/><circle cx="1160.48" cy="420.89" r="1.0"/><circle cx="1069.93" cy="425.75" r="1.0"/><circle cx="1073.81" cy="425.95" r="1.0"/><circle cx="1094.02" cy="427.31" r="1.0"/><circle cx="1059.04" cy="429.64" r="1.0"/><circle cx="1104.9" cy="431.97" r="1.0"/><circle cx="1111.12" cy="431" r="1.0"/><circle cx="1127.06" cy="432.94" r="1.0"/><circle cx="1094.02" cy="433.33" r="1.0"/><circle cx="1094.02" cy="435.08" r="1.0"/><circle cx="1120.06" cy="434.88" r="1.0"/><circle cx="1129.78" cy="435.86" r="1.0"/><circle cx="1113.46" cy="435.86" r="1.0"/><circle cx="1057.88" cy="437.61" r="1.0"/><circle cx="1082.36" cy="437.61" r="1.0"/><circle cx="1182.25" cy="432.36" r="1.0"/><circle cx="1146.1" cy="438.97" r="1.0"/><circle cx="1151.93" cy="441.1" r="1.0"/><circle cx="1154.26" cy="441.69" r="1.0"/><circle cx="1113.84" cy="440.91" r="1.0"/><circle cx="1083.53" cy="445.96" r="1.0"/><circle cx="1090.14" cy="447.13" r="1.0"/><circle cx="1108.4" cy="444.99" r="1.0"/><circle cx="1119.67" cy="447.13" r="1.0"/><circle cx="1148.05" cy="446.35" r="1.0"/><circle cx="1150.38" cy="446.54" r="1.0"/><circle cx="1072.65" cy="449.07" r="1.0"/><circle cx="1192.74" cy="448.68" r="1.0"/><circle cx="1114.62" cy="451.99" r="1.0"/><circle cx="1115.79" cy="450.82" r="1.0"/><circle cx="1118.9" cy="451.4" r="1.0"/><circle cx="1065.26" cy="459.76" r="1.0"/><circle cx="1085.47" cy="459.76" r="1.0"/><circle cx="1164.37" cy="457.82" r="1.0"/><circle cx="1197.4" cy="456.46" r="1.0"/><circle cx="1237.05" cy="458.79" r="1.0"/><circle cx="1140.66" cy="460.73" r="1.0"/><circle cx="1139.49" cy="465.98" r="1.0"/><circle cx="1123.95" cy="466.56" r="1.0"/><circle cx="1167.09" cy="465.2" r="1.0"/><circle cx="1200.9" cy="464.81" r="1.0"/><circle cx="1132.5" cy="471.61" r="1.0"/><circle cx="1184.58" cy="474.92" r="1.0"/><circle cx="1200.9" cy="475.69" r="1.0"/><circle cx="1120.06" cy="479" r="1.0"/><circle cx="1122.78" cy="485.8" r="1.0"/><circle cx="1106.07" cy="489.88" r="1.0"/><circle cx="1041.94" cy="457.82" r="1.0"/><circle cx="1043.11" cy="470.25" r="1.0"/><circle cx="1201.68" cy="514.17" r="1.0"/><circle cx="1248.32" cy="499.6" r="1.0"/></g>
<path d="M1079.39 517.7v2.8M1119.49 517.7v2.8M1159.58 517.7v2.8M1199.68 517.7v2.8M1239.78 517.7v2.8M1041.9 395.77h-2.8M1041.9 419.85h-2.8M1041.9 443.93h-2.8M1041.9 468.01h-2.8M1041.9 492.09h-2.8M1041.9 516.17h-2.8M1041.9 517.7v2.8M1248.6 517.7v2.8M1041.9 385h-2.8M1041.9 517.7h-2.8" stroke="#5a5a5a" stroke-width="0.9" fill="none"/>
<g font-size="5.6"><text x="1079.39" y="526.2" text-anchor="middle">0.2</text><text x="1119.49" y="526.2" text-anchor="middle">0.3</text><text x="1159.58" y="526.2" text-anchor="middle">0.4</text><text x="1199.68" y="526.2" text-anchor="middle">0.5</text><text x="1239.78" y="526.2" text-anchor="middle">0.6</text><text x="1038.3" y="397.77" text-anchor="end">1.0</text><text x="1038.3" y="421.85" text-anchor="end">0.5</text><text x="1038.3" y="445.93" text-anchor="end">0.0</text><text x="1038.3" y="470.01" text-anchor="end">−0.5</text><text x="1038.3" y="494.09" text-anchor="end">−1.0</text><text x="1038.3" y="518.17" text-anchor="end">−1.5</text></g>
<text x="1145.25" y="533.2" text-anchor="middle" font-size="5.5">Neutrophils_quanTIseq</text>
<text transform="translate(1025.34 451.35) rotate(-90)" text-anchor="middle" font-size="5.5">PUS1</text>
<rect x="1043.1" y="387.3" width="45.35" height="7.6" fill="#fff" fill-opacity="0.8"/>
<text x="1044.3" y="392.8" font-size="5.2" style="stroke-width:0.2px">&lt;: p=8.0e-5 r=−0.48</text>
<clipPath id="c25"><rect x="1299.4" y="385.5" width="210.8" height="132.7"/></clipPath>
<path fill="#80d2e4" d="M1299.81 385.3L1299.81 381.2L1305.21 381.2L1305.21 385.3ZM1313.68 385.3L1313.68 377.5L1317.55 377.5L1317.55 385.3ZM1321.94 385.3L1321.94 381.2L1326.12 381.2L1326.12 373.8L1333.77 373.8L1333.77 381.2L1342.44 381.2L1342.44 373.8L1346.21 373.8L1346.21 381.2L1350.6 381.2L1350.6 370.1L1354.37 370.1L1354.37 381.2L1358.45 381.2L1358.45 385.3ZM1362.63 385.3L1362.63 373.8L1366.61 373.8L1366.61 377.5L1370.89 377.5L1370.89 373.8L1374.66 373.8L1374.66 377.5L1379.05 377.5L1379.05 366.4L1383.13 366.4L1383.13 370.1L1387 370.1L1387 381.2L1395.16 381.2L1395.16 385.3ZM1399.34 385.3L1399.34 377.5L1403.22 377.5L1403.22 381.2L1407.6 381.2L1407.6 377.5L1415.25 377.5L1415.25 385.3ZM1419.64 385.3L1419.64 381.2L1423.72 381.2L1423.72 377.5L1427.7 377.5L1427.7 385.3ZM1440.14 385.3L1440.14 381.2L1448.19 381.2L1448.19 385.3ZM1452.58 385.3L1452.58 381.2L1460.94 381.2L1460.94 373.8L1464.61 373.8L1464.61 385.3ZM1497.45 385.3L1497.45 377.5L1501.53 377.5L1501.53 385.3ZM1508.98 385.3L1508.98 381.2L1510.2 381.2L1510.2 385.3Z"/>
<path fill="#80d2e4" d="M1512.2 406.12L1514.28 406.12L1514.28 409.24L1512.2 409.24ZM1512.2 419.8L1517.19 419.8L1517.19 427.54L1519.58 427.54L1519.58 430.96L1517.19 430.96L1517.19 434.39L1519.58 434.39L1519.58 437.81L1524.99 437.81L1524.99 441.23L1513.24 441.23L1513.24 444.65L1519.58 444.65L1519.58 448.07L1512.2 448.07ZM1512.2 451.49L1530.82 451.49L1530.82 454.91L1519.58 454.91L1519.58 461.75L1517.19 461.75L1517.19 466.07L1522.5 466.07L1522.5 472.91L1517.19 472.91L1517.19 476.33L1517.19 476.33L1517.19 481.46L1519.58 481.46L1519.58 487.5L1527.8 487.5L1527.8 490.92L1512.2 490.92ZM1512.2 494.34L1517.19 494.34L1517.19 497.76L1512.2 497.76Z"/>
<g clip-path="url(#c25)"><polygon fill="#e4e4e4" points="1298.4,448.1 1511.2,386.8 1511.2,457 1298.4,516.2"/><path d="M1337.63 385.5V518.2M1378.53 385.5V518.2M1419.42 385.5V518.2M1460.31 385.5V518.2M1501.2 385.5V518.2M1299.4 388.01H1510.2M1299.4 423.42H1510.2M1299.4 458.83H1510.2M1299.4 494.24H1510.2" stroke="#ececec" stroke-width="0.8" fill="none"/><path d="M1299.4 483L1510.2 420.7" stroke="#fff" stroke-width="3.2" fill="none"/><path d="M1299.4 483L1510.2 420.7" stroke="#1c1c1c" stroke-width="1.4" fill="none"/></g>
<rect x="1299.4" y="385.5" width="210.8" height="132.7" fill="none" stroke="#5a5a5a" stroke-width="1.1"/>
<g fill="#d8283a"><circle cx="1498.28" cy="406.7" r="1.0"/><circle cx="1399.97" cy="423.02" r="1.0"/><circle cx="1420.18" cy="421.86" r="1.0"/><circle cx="1378.99" cy="426.91" r="1.0"/><circle cx="1372" cy="430.41" r="1.0"/><circle cx="1377.82" cy="434.87" r="1.0"/><circle cx="1367.33" cy="437.79" r="1.0"/><circle cx="1442.33" cy="428.85" r="1.0"/><circle cx="1457.48" cy="427.3" r="1.0"/><circle cx="1461.37" cy="424.77" r="1.0"/><circle cx="1407.36" cy="432.74" r="1.0"/><circle cx="1411.63" cy="434.29" r="1.0"/><circle cx="1413.96" cy="432.54" r="1.0"/><circle cx="1409.69" cy="439.73" r="1.0"/><circle cx="1426.78" cy="438.18" r="1.0"/><circle cx="1444.66" cy="440.9" r="1.0"/><circle cx="1452.82" cy="442.84" r="1.0"/><circle cx="1499.45" cy="438.95" r="1.0"/><circle cx="1348.29" cy="447.5" r="1.0"/><circle cx="1405.8" cy="447.89" r="1.0"/><circle cx="1381.71" cy="452.17" r="1.0"/><circle cx="1378.99" cy="455.28" r="1.0"/><circle cx="1382.88" cy="456.05" r="1.0"/><circle cx="1391.42" cy="455.08" r="1.0"/><circle cx="1343.63" cy="454.5" r="1.0"/><circle cx="1352.57" cy="458" r="1.0"/><circle cx="1363.84" cy="458.97" r="1.0"/><circle cx="1330.81" cy="458.77" r="1.0"/><circle cx="1461.76" cy="453.72" r="1.0"/><circle cx="1460.98" cy="455.28" r="1.0"/><circle cx="1374.72" cy="463.05" r="1.0"/><circle cx="1388.7" cy="462.27" r="1.0"/><circle cx="1398.81" cy="461.69" r="1.0"/><circle cx="1331.58" cy="466.74" r="1.0"/><circle cx="1343.63" cy="467.9" r="1.0"/><circle cx="1379.77" cy="467.9" r="1.0"/><circle cx="1384.43" cy="467.32" r="1.0"/><circle cx="1386.37" cy="464.99" r="1.0"/><circle cx="1327.7" cy="469.85" r="1.0"/><circle cx="1323.42" cy="471.98" r="1.0"/><circle cx="1330.03" cy="472.37" r="1.0"/><circle cx="1333.91" cy="473.54" r="1.0"/><circle cx="1325.75" cy="476.26" r="1.0"/><circle cx="1351.4" cy="479.37" r="1.0"/><circle cx="1372.38" cy="478.01" r="1.0"/><circle cx="1378.6" cy="480.14" r="1.0"/><circle cx="1340.52" cy="482.67" r="1.0"/><circle cx="1341.69" cy="483.45" r="1.0"/><circle cx="1373.16" cy="484.81" r="1.0"/><circle cx="1315.65" cy="487.53" r="1.0"/><circle cx="1326.53" cy="487.14" r="1.0"/><circle cx="1352.18" cy="487.53" r="1.0"/><circle cx="1352.57" cy="488.3" r="1.0"/><circle cx="1357.62" cy="487.92" r="1.0"/><circle cx="1365" cy="486.56" r="1.0"/><circle cx="1370.05" cy="489.66" r="1.0"/><circle cx="1382.88" cy="489.66" r="1.0"/><circle cx="1316.82" cy="495.1" r="1.0"/><circle cx="1363.06" cy="494.72" r="1.0"/><circle cx="1299.33" cy="451.97" r="1.0"/><circle cx="1300.11" cy="469.85" r="1.0"/><circle cx="1509.75" cy="436.82" r="1.0"/></g>
<path d="M1337.63 518.2v2.8M1378.53 518.2v2.8M1419.42 518.2v2.8M1460.31 518.2v2.8M1501.2 518.2v2.8M1299.4 388.01h-2.8M1299.4 423.42h-2.8M1299.4 458.83h-2.8M1299.4 494.24h-2.8M1299.4 518.2v2.8M1510.2 518.2v2.8M1299.4 385.5h-2.8M1299.4 518.2h-2.8" stroke="#5a5a5a" stroke-width="0.9" fill="none"/>
<g font-size="5.6"><text x="1337.63" y="526.7" text-anchor="middle">0.2</text><text x="1378.53" y="526.7" text-anchor="middle">0.3</text><text x="1419.42" y="526.7" text-anchor="middle">0.4</text><text x="1460.31" y="526.7" text-anchor="middle">0.5</text><text x="1501.2" y="526.7" text-anchor="middle">0.6</text><text x="1295.8" y="390.01" text-anchor="end">2</text><text x="1295.8" y="425.42" text-anchor="end">1</text><text x="1295.8" y="460.83" text-anchor="end">0</text><text x="1295.8" y="496.24" text-anchor="end">−1</text></g>
<text x="1404.8" y="533.7" text-anchor="middle" font-size="5.5">Neutrophils_quanTIseq</text>
<text transform="translate(1287.04 451.85) rotate(-90)" text-anchor="middle" font-size="5.5">GRN</text>
<rect x="1300.6" y="387.8" width="42.41" height="7.6" fill="#fff" fill-opacity="0.8"/>
<text x="1301.8" y="393.3" font-size="5.2" style="stroke-width:0.2px">&lt;: p=5.2e-9 r=0.66</text>
<clipPath id="c30"><rect x="25" y="560.7" width="206.7" height="123.1"/></clipPath>
<path fill="#f48fc3" d="M26.1 560.5L26.1 541.1L29.2 541.1L29.2 559.1L39.3 559.1L39.3 560.5ZM46.5 560.5L46.5 557.6L49.4 557.6L49.4 558.6L63 558.6L63 560.5ZM71.6 560.5L71.6 559.1L73.7 559.1L73.7 560.5ZM80.9 560.5L80.9 559.1L83.8 559.1L83.8 560.5ZM91.7 560.5L91.7 558.1L98.1 558.1L98.1 560.5ZM101.7 560.5L101.7 558.6L107.4 558.6L107.4 560.5ZM112.4 560.5L112.4 559.1L126 559.1L126 558.1L129 558.1L129 560.5ZM136.1 560.5L136.1 558.1L140 558.1L140 560.5ZM146.5 560.5L146.5 558.1L150 558.1L150 560.5ZM156.5 560.5L156.5 559.1L160.1 559.1L160.1 560.5ZM177.7 560.5L177.7 559.1L180.9 559.1L180.9 560.5ZM215.6 560.5L215.6 559.1L218.9 559.1L218.9 560.5ZM229.6 560.5L229.6 559.1L231.7 559.1L231.7 560.5Z"/>
<path fill="#f48fc3" d="M233.7 584.57L235.88 584.57L235.88 588.78L237.34 588.78L237.34 594.9L233.7 594.9ZM233.7 607.02L241.08 607.02L241.08 610.23L236.72 610.23L236.72 614.44L238.9 614.44L238.9 618.25L235.57 618.25L235.57 622.46L238.9 622.46L238.9 626.17L241.08 626.17L241.08 629.37L236.72 629.37L236.72 633.18L241.08 633.18L241.08 637.39L239.42 637.39L239.42 641.1L242.75 641.1L242.75 644.31L251.59 644.31L251.59 648.02L245.56 648.02L245.56 651.83L236.72 651.83L236.72 655.53L233.7 655.53ZM233.7 659.74L240.56 659.74L240.56 663.55L235.26 663.55L235.26 667.26L243.37 667.26L243.37 670.47L233.7 670.47Z"/>
<g clip-path="url(#c30)"><polygon fill="#e4e4e4" points="24,612.5 232.7,562.8 232.7,636.5 24,681.2"/><path d="M59.59 560.7V683.8M94.19 560.7V683.8M128.78 560.7V683.8M163.38 560.7V683.8M197.97 560.7V683.8M25 565.13H231.7M25 583.97H231.7M25 602.81H231.7M25 621.66H231.7M25 640.5H231.7M25 659.34H231.7M25 678.19H231.7" stroke="#ececec" stroke-width="0.8" fill="none"/><path d="M25 648L231.7 598.5" stroke="#fff" stroke-width="3.2" fill="none"/><path d="M25 648L231.7 598.5" stroke="#1c1c1c" stroke-width="1.4" fill="none"/></g>
<rect x="25" y="560.7" width="206.7" height="123.1" fill="none" stroke="#5a5a5a" stroke-width="1.1"/>
<g fill="#d8283a"><circle cx="123.65" cy="584.68" r="1.0"/><circle cx="138.17" cy="590.86" r="1.0"/><circle cx="115.3" cy="593.76" r="1.0"/><circle cx="160.32" cy="594.49" r="1.0"/><circle cx="48.14" cy="607.74" r="1.0"/><circle cx="95.7" cy="607.92" r="1.0"/><circle cx="114.21" cy="609.19" r="1.0"/><circle cx="121.11" cy="610.46" r="1.0"/><circle cx="128.73" cy="613.36" r="1.0"/><circle cx="102.6" cy="617.54" r="1.0"/><circle cx="126.19" cy="616.99" r="1.0"/><circle cx="136.72" cy="616.09" r="1.0"/><circle cx="138.54" cy="619.9" r="1.0"/><circle cx="47.41" cy="622.08" r="1.0"/><circle cx="31.44" cy="624.26" r="1.0"/><circle cx="91.7" cy="627.16" r="1.0"/><circle cx="128.37" cy="627.7" r="1.0"/><circle cx="55.76" cy="628.61" r="1.0"/><circle cx="71.74" cy="632.97" r="1.0"/><circle cx="121.84" cy="632.61" r="1.0"/><circle cx="149.43" cy="632.79" r="1.0"/><circle cx="47.41" cy="636.78" r="1.0"/><circle cx="106.23" cy="634.78" r="1.0"/><circle cx="82.63" cy="638.78" r="1.0"/><circle cx="51.77" cy="640.77" r="1.0"/><circle cx="59.76" cy="639.68" r="1.0"/><circle cx="33.98" cy="641.5" r="1.0"/><circle cx="37.61" cy="641.68" r="1.0"/><circle cx="62.3" cy="643.86" r="1.0"/><circle cx="91.7" cy="644.22" r="1.0"/><circle cx="104.77" cy="645.31" r="1.0"/><circle cx="46.69" cy="648.22" r="1.0"/><circle cx="53.58" cy="647.49" r="1.0"/><circle cx="29.62" cy="647.31" r="1.0"/><circle cx="51.04" cy="651.12" r="1.0"/><circle cx="97.15" cy="650.94" r="1.0"/><circle cx="148.34" cy="651.85" r="1.0"/><circle cx="94.97" cy="660.38" r="1.0"/><circle cx="82.63" cy="664.37" r="1.0"/><circle cx="59.03" cy="670.36" r="1.0"/><circle cx="217.68" cy="646.4" r="1.0"/><circle cx="232.2" cy="591.4" r="1.0"/><circle cx="25" cy="622.44" r="1.0"/><circle cx="25" cy="626.98" r="1.0"/><circle cx="25" cy="633.33" r="1.0"/><circle cx="25" cy="637.87" r="1.0"/><circle cx="25" cy="643.31" r="1.0"/><circle cx="25" cy="645.13" r="1.0"/><circle cx="25" cy="646.95" r="1.0"/><circle cx="25" cy="648.76" r="1.0"/><circle cx="25" cy="651.48" r="1.0"/><circle cx="25" cy="656.02" r="1.0"/><circle cx="25" cy="659.65" r="1.0"/><circle cx="25" cy="663.28" r="1.0"/><circle cx="25" cy="666.91" r="1.0"/><circle cx="25" cy="669.64" r="1.0"/></g>
<path d="M25 683.8v2.8M59.59 683.8v2.8M94.19 683.8v2.8M128.78 683.8v2.8M163.38 683.8v2.8M197.97 683.8v2.8M25 565.13h-2.8M25 583.97h-2.8M25 602.81h-2.8M25 621.66h-2.8M25 640.5h-2.8M25 659.34h-2.8M25 678.19h-2.8M25 683.8v2.8M231.7 683.8v2.8M25 560.7h-2.8M25 683.8h-2.8" stroke="#5a5a5a" stroke-width="0.9" fill="none"/>
<g font-size="5.6"><text x="25" y="692.3" text-anchor="middle">0.0</text><text x="59.59" y="692.3" text-anchor="middle">0.1</text><text x="94.19" y="692.3" text-anchor="middle">0.2</text><text x="128.78" y="692.3" text-anchor="middle">0.3</text><text x="163.38" y="692.3" text-anchor="middle">0.4</text><text x="197.97" y="692.3" text-anchor="middle">0.5</text><text x="21.4" y="567.13" text-anchor="end">2.0</text><text x="21.4" y="585.97" text-anchor="end">1.5</text><text x="21.4" y="604.81" text-anchor="end">1.0</text><text x="21.4" y="623.66" text-anchor="end">0.5</text><text x="21.4" y="642.5" text-anchor="end">0.0</text><text x="21.4" y="661.34" text-anchor="end">−0.5</text><text x="21.4" y="680.19" text-anchor="end">−1.0</text></g>
<text x="128.35" y="699.3" text-anchor="middle" font-size="5.5">Neutrophils_xCell</text>
<text transform="translate(8.44 622.25) rotate(-90)" text-anchor="middle" font-size="5.5">SLC2A3</text>
<rect x="26.2" y="563" width="42.41" height="7.6" fill="#fff" fill-opacity="0.8"/>
<text x="27.4" y="568.5" font-size="5.2" style="stroke-width:0.2px">&lt;: p=4.9e-7 r=0.58</text>
<clipPath id="c31"><rect x="280.2" y="560.7" width="206.3" height="123.1"/></clipPath>
<path fill="#f48fc3" d="M281.3 560.5L281.3 541.1L284.39 541.1L284.39 559.1L294.47 559.1L294.47 560.5ZM301.66 560.5L301.66 557.6L304.55 557.6L304.55 558.6L318.13 558.6L318.13 560.5ZM326.71 560.5L326.71 559.1L328.81 559.1L328.81 560.5ZM335.99 560.5L335.99 559.1L338.89 559.1L338.89 560.5ZM346.77 560.5L346.77 558.1L353.16 558.1L353.16 560.5ZM356.75 560.5L356.75 558.6L362.44 558.6L362.44 560.5ZM367.43 560.5L367.43 559.1L381 559.1L381 558.1L384 558.1L384 560.5ZM391.09 560.5L391.09 558.1L394.98 558.1L394.98 560.5ZM401.46 560.5L401.46 558.1L404.96 558.1L404.96 560.5ZM411.45 560.5L411.45 559.1L415.04 559.1L415.04 560.5ZM432.6 560.5L432.6 559.1L435.8 559.1L435.8 560.5ZM470.43 560.5L470.43 559.1L473.72 559.1L473.72 560.5ZM484.4 560.5L484.4 559.1L486.5 559.1L486.5 560.5Z"/>
<path fill="#f48fc3" d="M488.5 563.86L490.79 563.86L490.79 569.81L493.18 569.81L493.18 574.97L497.76 574.97L497.76 585.29L493.18 585.29L493.18 591.24L502.44 591.24L502.44 597.09L507.12 597.09L507.12 601.55L497.76 601.55L497.76 607.51L504.72 607.51L504.72 612.67L495.47 612.67L495.47 618.52L500.15 618.52L500.15 623.78L502.44 623.78L502.44 628.93L504.72 628.93L504.72 634.09L488.5 634.09ZM488.5 645.2L492.87 645.2L492.87 655.52L488.5 655.52Z"/>
<g clip-path="url(#c31)"><polygon fill="#e4e4e4" points="279.2,562.9 487.5,611.3 487.5,681.2 279.2,629.6"/><path d="M314.73 560.7V683.8M349.25 560.7V683.8M383.78 560.7V683.8M418.31 560.7V683.8M452.84 560.7V683.8M280.2 579.93H486.5M280.2 607.11H486.5M280.2 634.29H486.5M280.2 661.47H486.5" stroke="#ececec" stroke-width="0.8" fill="none"/><path d="M280.2 595.2L486.5 647" stroke="#fff" stroke-width="3.2" fill="none"/><path d="M280.2 595.2L486.5 647" stroke="#1c1c1c" stroke-width="1.4" fill="none"/></g>
<rect x="280.2" y="560.7" width="206.3" height="123.1" fill="none" stroke="#5a5a5a" stroke-width="1.1"/>
<g fill="#d8283a"><circle cx="307.86" cy="572.88" r="1.0"/><circle cx="288.25" cy="575.43" r="1.0"/><circle cx="292.25" cy="581.05" r="1.0"/><circle cx="284.26" cy="584.68" r="1.0"/><circle cx="306.04" cy="592.85" r="1.0"/><circle cx="336.9" cy="591.22" r="1.0"/><circle cx="345.98" cy="591.4" r="1.0"/><circle cx="312.94" cy="597.93" r="1.0"/><circle cx="369.94" cy="597.39" r="1.0"/><circle cx="349.61" cy="605.74" r="1.0"/><circle cx="380.83" cy="604.65" r="1.0"/><circle cx="382.65" cy="607.37" r="1.0"/><circle cx="403.7" cy="604.83" r="1.0"/><circle cx="314.39" cy="607.92" r="1.0"/><circle cx="285.71" cy="609.73" r="1.0"/><circle cx="305.32" cy="611.37" r="1.0"/><circle cx="326.01" cy="610.46" r="1.0"/><circle cx="391" cy="611.55" r="1.0"/><circle cx="392.81" cy="613.36" r="1.0"/><circle cx="402.61" cy="610.46" r="1.0"/><circle cx="375.75" cy="614.27" r="1.0"/><circle cx="376.47" cy="615.36" r="1.0"/><circle cx="377.93" cy="620.44" r="1.0"/><circle cx="300.96" cy="617.9" r="1.0"/><circle cx="336.9" cy="620.99" r="1.0"/><circle cx="414.59" cy="621.9" r="1.0"/><circle cx="302.41" cy="624.07" r="1.0"/><circle cx="351.79" cy="625.89" r="1.0"/><circle cx="359.05" cy="623.89" r="1.0"/><circle cx="356.87" cy="627.34" r="1.0"/><circle cx="368.49" cy="625.89" r="1.0"/><circle cx="316.57" cy="627.16" r="1.0"/><circle cx="301.69" cy="629.7" r="1.0"/><circle cx="310.04" cy="630.25" r="1.0"/><circle cx="301.32" cy="632.61" r="1.0"/><circle cx="345.98" cy="632.42" r="1.0"/><circle cx="349.97" cy="632.06" r="1.0"/><circle cx="471.95" cy="631.88" r="1.0"/><circle cx="360.5" cy="648.76" r="1.0"/><circle cx="383.37" cy="650.58" r="1.0"/><circle cx="392.81" cy="652.03" r="1.0"/><circle cx="432.38" cy="654.39" r="1.0"/><circle cx="486.11" cy="634.24" r="1.0"/><circle cx="280.2" cy="566.17" r="1.0"/><circle cx="280.2" cy="572.52" r="1.0"/><circle cx="280.2" cy="576.15" r="1.0"/><circle cx="280.2" cy="581.6" r="1.0"/><circle cx="280.2" cy="586.14" r="1.0"/><circle cx="280.2" cy="589.77" r="1.0"/><circle cx="280.2" cy="594.3" r="1.0"/><circle cx="280.2" cy="596.12" r="1.0"/><circle cx="280.2" cy="598.84" r="1.0"/><circle cx="280.2" cy="600.66" r="1.0"/><circle cx="280.2" cy="604.29" r="1.0"/><circle cx="280.2" cy="610.64" r="1.0"/><circle cx="280.2" cy="620.62" r="1.0"/></g>
<path d="M280.2 683.8v2.8M314.73 683.8v2.8M349.25 683.8v2.8M383.78 683.8v2.8M418.31 683.8v2.8M452.84 683.8v2.8M280.2 579.93h-2.8M280.2 607.11h-2.8M280.2 634.29h-2.8M280.2 661.47h-2.8M280.2 683.8v2.8M486.5 683.8v2.8M280.2 560.7h-2.8M280.2 683.8h-2.8" stroke="#5a5a5a" stroke-width="0.9" fill="none"/>
<g font-size="5.6"><text x="280.2" y="692.3" text-anchor="middle">0.0</text><text x="314.73" y="692.3" text-anchor="middle">0.1</text><text x="349.25" y="692.3" text-anchor="middle">0.2</text><text x="383.78" y="692.3" text-anchor="middle">0.3</text><text x="418.31" y="692.3" text-anchor="middle">0.4</text><text x="452.84" y="692.3" text-anchor="middle">0.5</text><text x="276.6" y="581.93" text-anchor="end">0.5</text><text x="276.6" y="609.11" text-anchor="end">0.0</text><text x="276.6" y="636.29" text-anchor="end">−0.5</text><text x="276.6" y="663.47" text-anchor="end">−1.0</text></g>
<text x="383.35" y="699.3" text-anchor="middle" font-size="5.5">Neutrophils_xCell</text>
<text transform="translate(263.64 622.25) rotate(-90)" text-anchor="middle" font-size="5.5">NDUFB11</text>
<rect x="281.4" y="563" width="45.35" height="7.6" fill="#fff" fill-opacity="0.8"/>
<text x="282.6" y="568.5" font-size="5.2" style="stroke-width:0.2px">&lt;: p=6.3e-8 r=−0.62</text>
<clipPath id="c32"><rect x="533.2" y="560.7" width="206.5" height="123.1"/></clipPath>
<path fill="#f48fc3" d="M534.3 560.5L534.3 541.1L537.4 541.1L537.4 559.1L547.49 559.1L547.49 560.5ZM554.68 560.5L554.68 557.6L557.58 557.6L557.58 558.6L571.16 558.6L571.16 560.5ZM579.75 560.5L579.75 559.1L581.85 559.1L581.85 560.5ZM589.05 560.5L589.05 559.1L591.94 559.1L591.94 560.5ZM599.84 560.5L599.84 558.1L606.23 558.1L606.23 560.5ZM609.83 560.5L609.83 558.6L615.52 558.6L615.52 560.5ZM620.52 560.5L620.52 559.1L634.1 559.1L634.1 558.1L637.1 558.1L637.1 560.5ZM644.19 560.5L644.19 558.1L648.09 558.1L648.09 560.5ZM654.58 560.5L654.58 558.1L658.08 558.1L658.08 560.5ZM664.57 560.5L664.57 559.1L668.17 559.1L668.17 560.5ZM685.75 560.5L685.75 559.1L688.95 559.1L688.95 560.5ZM723.62 560.5L723.62 559.1L726.91 559.1L726.91 560.5ZM737.6 560.5L737.6 559.1L739.7 559.1L739.7 560.5Z"/>
<path fill="#f48fc3" d="M741.7 562.86L743.26 562.86L743.26 569L747.63 569L747.63 574.52L741.7 574.52ZM741.7 580.66L751.79 580.66L751.79 586.91L750.96 586.91L750.96 592.33L750.23 592.33L750.23 597.74L760.32 597.74L760.32 603.16L751.79 603.16L751.79 608.57L750.23 608.57L750.23 614.82L751.79 614.82L751.79 620.23L754.08 620.23L754.08 625.65L750.23 625.65L750.23 631.9L749.71 631.9L749.71 638.04L749.71 638.04L749.71 643.46L745.55 643.46L745.55 648.98L743.57 648.98L743.57 654.39L741.7 654.39ZM741.7 659.49L743.26 659.49L743.26 663.66L741.7 663.66Z"/>
<g clip-path="url(#c32)"><polygon fill="#e4e4e4" points="532.2,563.2 740.7,596.8 740.7,682 532.2,636"/><path d="M567.76 560.7V683.8M602.32 560.7V683.8M636.88 560.7V683.8M671.44 560.7V683.8M706 560.7V683.8M533.2 580.35H739.7M533.2 609.3H739.7M533.2 638.25H739.7M533.2 667.2H739.7" stroke="#ececec" stroke-width="0.8" fill="none"/><path d="M533.2 601.6L739.7 640.4" stroke="#fff" stroke-width="3.2" fill="none"/><path d="M533.2 601.6L739.7 640.4" stroke="#1c1c1c" stroke-width="1.4" fill="none"/></g>
<rect x="533.2" y="560.7" width="206.5" height="123.1" fill="none" stroke="#5a5a5a" stroke-width="1.1"/>
<g fill="#d8283a"><circle cx="545.16" cy="568.53" r="1.0"/><circle cx="561.13" cy="582.87" r="1.0"/><circle cx="559.32" cy="587.95" r="1.0"/><circle cx="644.27" cy="581.05" r="1.0"/><circle cx="599.25" cy="593.76" r="1.0"/><circle cx="602.88" cy="592.31" r="1.0"/><circle cx="635.92" cy="595.57" r="1.0"/><circle cx="566.22" cy="598.48" r="1.0"/><circle cx="558.95" cy="599.93" r="1.0"/><circle cx="656.61" cy="599.39" r="1.0"/><circle cx="567.67" cy="603.38" r="1.0"/><circle cx="612.32" cy="603.74" r="1.0"/><circle cx="633.74" cy="604.11" r="1.0"/><circle cx="623.21" cy="606.28" r="1.0"/><circle cx="554.23" cy="607.01" r="1.0"/><circle cx="554.6" cy="605.74" r="1.0"/><circle cx="538.62" cy="603.38" r="1.0"/><circle cx="537.53" cy="610.82" r="1.0"/><circle cx="589.81" cy="609.55" r="1.0"/><circle cx="630.84" cy="613" r="1.0"/><circle cx="629.02" cy="615.91" r="1.0"/><circle cx="613.77" cy="618.45" r="1.0"/><circle cx="579.28" cy="619.17" r="1.0"/><circle cx="554.6" cy="620.99" r="1.0"/><circle cx="541.17" cy="623.17" r="1.0"/><circle cx="589.81" cy="622.44" r="1.0"/><circle cx="599.25" cy="620.99" r="1.0"/><circle cx="645.72" cy="621.71" r="1.0"/><circle cx="610.14" cy="626.25" r="1.0"/><circle cx="655.89" cy="627.52" r="1.0"/><circle cx="667.87" cy="627.34" r="1.0"/><circle cx="562.95" cy="637.32" r="1.0"/><circle cx="604.7" cy="635.87" r="1.0"/><circle cx="621.76" cy="635.69" r="1.0"/><circle cx="629.75" cy="634.96" r="1.0"/><circle cx="569.48" cy="642.23" r="1.0"/><circle cx="685.66" cy="641.68" r="1.0"/><circle cx="725.23" cy="643.68" r="1.0"/><circle cx="555.69" cy="647.31" r="1.0"/><circle cx="636.28" cy="652.57" r="1.0"/><circle cx="603.25" cy="666.37" r="1.0"/><circle cx="739.02" cy="640.77" r="1.0"/><circle cx="533.2" cy="572.52" r="1.0"/><circle cx="533.2" cy="574.34" r="1.0"/><circle cx="533.2" cy="580.69" r="1.0"/><circle cx="533.2" cy="585.23" r="1.0"/><circle cx="533.2" cy="589.77" r="1.0"/><circle cx="533.2" cy="593.4" r="1.0"/><circle cx="533.2" cy="597.93" r="1.0"/><circle cx="533.2" cy="602.47" r="1.0"/><circle cx="533.2" cy="604.29" r="1.0"/><circle cx="533.2" cy="610.64" r="1.0"/><circle cx="533.2" cy="612.46" r="1.0"/><circle cx="533.2" cy="626.98" r="1.0"/><circle cx="533.2" cy="631.52" r="1.0"/><circle cx="533.2" cy="644.22" r="1.0"/></g>
<path d="M533.2 683.8v2.8M567.76 683.8v2.8M602.32 683.8v2.8M636.88 683.8v2.8M671.44 683.8v2.8M706 683.8v2.8M533.2 580.35h-2.8M533.2 609.3h-2.8M533.2 638.25h-2.8M533.2 667.2h-2.8M533.2 683.8v2.8M739.7 683.8v2.8M533.2 560.7h-2.8M533.2 683.8h-2.8" stroke="#5a5a5a" stroke-width="0.9" fill="none"/>
<g font-size="5.6"><text x="533.2" y="692.3" text-anchor="middle">0.0</text><text x="567.76" y="692.3" text-anchor="middle">0.1</text><text x="602.32" y="692.3" text-anchor="middle">0.2</text><text x="636.88" y="692.3" text-anchor="middle">0.3</text><text x="671.44" y="692.3" text-anchor="middle">0.4</text><text x="706" y="692.3" text-anchor="middle">0.5</text><text x="529.6" y="582.35" text-anchor="end">0.5</text><text x="529.6" y="611.3" text-anchor="end">0.0</text><text x="529.6" y="640.25" text-anchor="end">−0.5</text><text x="529.6" y="669.2" text-anchor="end">−1.0</text></g>
<text x="636.45" y="699.3" text-anchor="middle" font-size="5.5">Neutrophils_xCell</text>
<text transform="translate(516.64 622.25) rotate(-90)" text-anchor="middle" font-size="5.5">GTPBP3</text>
<rect x="534.4" y="563" width="45.35" height="7.6" fill="#fff" fill-opacity="0.8"/>
<text x="535.6" y="568.5" font-size="5.2" style="stroke-width:0.2px">&lt;: p=3.2e-4 r=−0.44</text>
<clipPath id="c33"><rect x="787.1" y="560.7" width="206.8" height="123.1"/></clipPath>
<path fill="#f48fc3" d="M788.2 560.5L788.2 541.1L791.3 541.1L791.3 559.1L801.41 559.1L801.41 560.5ZM808.61 560.5L808.61 557.6L811.51 557.6L811.51 558.6L825.12 558.6L825.12 560.5ZM833.72 560.5L833.72 559.1L835.82 559.1L835.82 560.5ZM843.03 560.5L843.03 559.1L845.93 559.1L845.93 560.5ZM853.83 560.5L853.83 558.1L860.24 558.1L860.24 560.5ZM863.84 560.5L863.84 558.6L869.54 558.6L869.54 560.5ZM874.54 560.5L874.54 559.1L888.15 559.1L888.15 558.1L891.15 558.1L891.15 560.5ZM898.25 560.5L898.25 558.1L902.16 558.1L902.16 560.5ZM908.66 560.5L908.66 558.1L912.16 558.1L912.16 560.5ZM918.66 560.5L918.66 559.1L922.27 559.1L922.27 560.5ZM939.87 560.5L939.87 559.1L943.08 559.1L943.08 560.5ZM977.79 560.5L977.79 559.1L981.09 559.1L981.09 560.5ZM991.8 560.5L991.8 559.1L993.9 559.1L993.9 560.5Z"/>
<path fill="#f48fc3" d="M995.9 590.19L998.29 590.19L998.29 594.23L1001.62 594.23L1001.62 598.27L997.04 598.27L997.04 603.09L1011.5 603.09L1011.5 606.64L995.9 606.64ZM995.9 611.08L998.81 611.08L998.81 615.12L995.9 615.12ZM995.9 619.95L1011.5 619.95L1011.5 627.14L1007.24 627.14L1007.24 640.05L1014.62 640.05L1014.62 648.03L1005.57 648.03L1005.57 656.9L1007.76 656.9L1007.76 664.98L1001.62 664.98L1001.62 669.02L998.81 669.02L998.81 677L995.9 677ZM995.9 681.83L998.81 681.83L998.81 683.8L995.9 683.8Z"/>
<g clip-path="url(#c33)"><polygon fill="#e4e4e4" points="786.1,619.4 994.9,562.5 994.9,627.9 786.1,682"/><path d="M821.71 560.7V683.8M856.32 560.7V683.8M890.93 560.7V683.8M925.54 560.7V683.8M960.15 560.7V683.8M787.1 577.57H993.9M787.1 598.46H993.9M787.1 619.35H993.9M787.1 640.25H993.9M787.1 661.14H993.9M787.1 682.03H993.9" stroke="#ececec" stroke-width="0.8" fill="none"/><path d="M787.1 650.8L993.9 594.7" stroke="#fff" stroke-width="3.2" fill="none"/><path d="M787.1 650.8L993.9 594.7" stroke="#1c1c1c" stroke-width="1.4" fill="none"/></g>
<rect x="787.1" y="560.7" width="206.8" height="123.1" fill="none" stroke="#5a5a5a" stroke-width="1.1"/>
<g fill="#d8283a"><circle cx="885.2" cy="592.49" r="1.0"/><circle cx="921.87" cy="597.57" r="1.0"/><circle cx="857.25" cy="601.2" r="1.0"/><circle cx="808.6" cy="603.92" r="1.0"/><circle cx="817.31" cy="603.92" r="1.0"/><circle cx="877.21" cy="605.56" r="1.0"/><circle cx="890.65" cy="606.65" r="1.0"/><circle cx="900.08" cy="603.92" r="1.0"/><circle cx="875.76" cy="612.46" r="1.0"/><circle cx="979.23" cy="619.9" r="1.0"/><circle cx="866.32" cy="622.44" r="1.0"/><circle cx="883.02" cy="624.26" r="1.0"/><circle cx="898.63" cy="622.26" r="1.0"/><circle cx="900.08" cy="622.62" r="1.0"/><circle cx="939.66" cy="624.8" r="1.0"/><circle cx="853.25" cy="627.16" r="1.0"/><circle cx="910.98" cy="626.98" r="1.0"/><circle cx="889.92" cy="627.89" r="1.0"/><circle cx="809.69" cy="628.43" r="1.0"/><circle cx="808.96" cy="632.79" r="1.0"/><circle cx="812.95" cy="634.24" r="1.0"/><circle cx="813.32" cy="634.96" r="1.0"/><circle cx="843.81" cy="631.52" r="1.0"/><circle cx="864.14" cy="629.16" r="1.0"/><circle cx="858.7" cy="634.78" r="1.0"/><circle cx="867.77" cy="637.51" r="1.0"/><circle cx="853.25" cy="640.05" r="1.0"/><circle cx="883.75" cy="640.41" r="1.0"/><circle cx="791.9" cy="640.77" r="1.0"/><circle cx="856.88" cy="646.58" r="1.0"/><circle cx="822.03" cy="647.85" r="1.0"/><circle cx="799.16" cy="647.31" r="1.0"/><circle cx="844.18" cy="651.85" r="1.0"/><circle cx="910.25" cy="651.48" r="1.0"/><circle cx="792.99" cy="656.57" r="1.0"/><circle cx="795.89" cy="656.93" r="1.0"/><circle cx="815.13" cy="654.93" r="1.0"/><circle cx="823.85" cy="659.29" r="1.0"/><circle cx="808.23" cy="662.01" r="1.0"/><circle cx="788.63" cy="663.28" r="1.0"/><circle cx="787.1" cy="622.44" r="1.0"/><circle cx="787.1" cy="639.68" r="1.0"/><circle cx="787.1" cy="642.41" r="1.0"/><circle cx="787.1" cy="645.13" r="1.0"/><circle cx="787.1" cy="647.85" r="1.0"/><circle cx="787.1" cy="652.39" r="1.0"/><circle cx="787.1" cy="656.93" r="1.0"/><circle cx="787.1" cy="661.47" r="1.0"/><circle cx="787.1" cy="665.1" r="1.0"/><circle cx="787.1" cy="666.91" r="1.0"/><circle cx="787.1" cy="670.54" r="1.0"/><circle cx="787.1" cy="674.17" r="1.0"/><circle cx="787.1" cy="678.71" r="1.0"/><circle cx="787.1" cy="682.89" r="1.0"/></g>
<path d="M787.1 683.8v2.8M821.71 683.8v2.8M856.32 683.8v2.8M890.93 683.8v2.8M925.54 683.8v2.8M960.15 683.8v2.8M787.1 577.57h-2.8M787.1 598.46h-2.8M787.1 619.35h-2.8M787.1 640.25h-2.8M787.1 661.14h-2.8M787.1 682.03h-2.8M787.1 683.8v2.8M993.9 683.8v2.8M787.1 560.7h-2.8M787.1 683.8h-2.8" stroke="#5a5a5a" stroke-width="0.9" fill="none"/>
<g font-size="5.6"><text x="787.1" y="692.3" text-anchor="middle">0.0</text><text x="821.71" y="692.3" text-anchor="middle">0.1</text><text x="856.32" y="692.3" text-anchor="middle">0.2</text><text x="890.93" y="692.3" text-anchor="middle">0.3</text><text x="925.54" y="692.3" text-anchor="middle">0.4</text><text x="960.15" y="692.3" text-anchor="middle">0.5</text><text x="783.5" y="579.57" text-anchor="end">1.5</text><text x="783.5" y="600.46" text-anchor="end">1.0</text><text x="783.5" y="621.35" text-anchor="end">0.5</text><text x="783.5" y="642.25" text-anchor="end">0.0</text><text x="783.5" y="663.14" text-anchor="end">−0.5</text><text x="783.5" y="684.03" text-anchor="end">−1.0</text></g>
<text x="890.5" y="699.3" text-anchor="middle" font-size="5.5">Neutrophils_xCell</text>
<text transform="translate(770.54 622.25) rotate(-90)" text-anchor="middle" font-size="5.5">SLC16A3</text>
<rect x="788.3" y="563" width="42.41" height="7.6" fill="#fff" fill-opacity="0.8"/>
<text x="789.5" y="568.5" font-size="5.2" style="stroke-width:0.2px">&lt;: p=1.9e-9 r=0.67</text>
<clipPath id="c34"><rect x="1041.4" y="560.7" width="206.7" height="123.1"/></clipPath>
<path fill="#f48fc3" d="M1042.5 560.5L1042.5 541.1L1045.6 541.1L1045.6 559.1L1055.7 559.1L1055.7 560.5ZM1062.9 560.5L1062.9 557.6L1065.8 557.6L1065.8 558.6L1079.4 558.6L1079.4 560.5ZM1088 560.5L1088 559.1L1090.1 559.1L1090.1 560.5ZM1097.3 560.5L1097.3 559.1L1100.2 559.1L1100.2 560.5ZM1108.1 560.5L1108.1 558.1L1114.5 558.1L1114.5 560.5ZM1118.1 560.5L1118.1 558.6L1123.8 558.6L1123.8 560.5ZM1128.8 560.5L1128.8 559.1L1142.4 559.1L1142.4 558.1L1145.4 558.1L1145.4 560.5ZM1152.5 560.5L1152.5 558.1L1156.4 558.1L1156.4 560.5ZM1162.9 560.5L1162.9 558.1L1166.4 558.1L1166.4 560.5ZM1172.9 560.5L1172.9 559.1L1176.5 559.1L1176.5 560.5ZM1194.1 560.5L1194.1 559.1L1197.3 559.1L1197.3 560.5ZM1232 560.5L1232 559.1L1235.3 559.1L1235.3 560.5ZM1246 560.5L1246 559.1L1248.1 559.1L1248.1 560.5Z"/>
<path fill="#f48fc3" d="M1250.1 566.65L1254.88 566.65L1254.88 571.59L1250.1 571.59ZM1250.1 576.32L1252.18 576.32L1252.18 581.57L1257.48 581.57L1257.48 585.89L1266.01 585.89L1266.01 590.31L1257.48 590.31L1257.48 595.55L1266.01 595.55L1266.01 599.87L1269.03 599.87L1269.03 604.29L1257.48 604.29L1257.48 609.54L1269.03 609.54L1269.03 613.96L1260.19 613.96L1260.19 618.28L1257.48 618.28L1257.48 623.53L1260.19 623.53L1260.19 627.85L1260.19 627.85L1260.19 632.27L1257.48 632.27L1257.48 636.69L1254.88 636.69L1254.88 641.94L1252.18 641.94L1252.18 646.36L1251.87 646.36L1251.87 655.92L1250.1 655.92ZM1250.1 660.35L1252.18 660.35L1252.18 664.66L1250.1 664.66ZM1250.1 674.33L1252.18 674.33L1252.18 678.65L1250.1 678.65Z"/>
<g clip-path="url(#c34)"><polygon fill="#e4e4e4" points="1040.4,563.1 1249.1,597.3 1249.1,681.2 1040.4,642.9"/><path d="M1075.99 560.7V683.8M1110.59 560.7V683.8M1145.18 560.7V683.8M1179.78 560.7V683.8M1214.37 560.7V683.8M1041.4 562.64H1248.1M1041.4 585.89H1248.1M1041.4 609.13H1248.1M1041.4 632.37H1248.1M1041.4 655.61H1248.1M1041.4 678.86H1248.1" stroke="#ececec" stroke-width="0.8" fill="none"/><path d="M1041.4 601.1L1248.1 640.4" stroke="#fff" stroke-width="3.2" fill="none"/><path d="M1041.4 601.1L1248.1 640.4" stroke="#1c1c1c" stroke-width="1.4" fill="none"/></g>
<rect x="1041.4" y="560.7" width="206.7" height="123.1" fill="none" stroke="#5a5a5a" stroke-width="1.1"/>
<g fill="#d8283a"><circle cx="1042.63" cy="568.53" r="1.0"/><circle cx="1069.5" cy="568.53" r="1.0"/><circle cx="1110.88" cy="581.42" r="1.0"/><circle cx="1152.63" cy="586.86" r="1.0"/><circle cx="1053.52" cy="588.5" r="1.0"/><circle cx="1067.32" cy="588.13" r="1.0"/><circle cx="1076.03" cy="596.66" r="1.0"/><circle cx="1066.95" cy="597.57" r="1.0"/><circle cx="1107.61" cy="598.3" r="1.0"/><circle cx="1131.21" cy="597.93" r="1.0"/><circle cx="1045.9" cy="600.84" r="1.0"/><circle cx="1062.96" cy="601.57" r="1.0"/><circle cx="1098.18" cy="601.38" r="1.0"/><circle cx="1046.99" cy="606.1" r="1.0"/><circle cx="1154.08" cy="606.65" r="1.0"/><circle cx="1142.1" cy="607.19" r="1.0"/><circle cx="1164.98" cy="604.29" r="1.0"/><circle cx="1062.6" cy="610.28" r="1.0"/><circle cx="1074.58" cy="612.46" r="1.0"/><circle cx="1137.02" cy="611.91" r="1.0"/><circle cx="1139.2" cy="613.91" r="1.0"/><circle cx="1143.92" cy="611.73" r="1.0"/><circle cx="1163.89" cy="612.09" r="1.0"/><circle cx="1098.18" cy="616.09" r="1.0"/><circle cx="1062.6" cy="617.36" r="1.0"/><circle cx="1107.61" cy="622.62" r="1.0"/><circle cx="1154.08" cy="621.53" r="1.0"/><circle cx="1175.87" cy="623.71" r="1.0"/><circle cx="1071.31" cy="625.71" r="1.0"/><circle cx="1087.65" cy="631.15" r="1.0"/><circle cx="1118.51" cy="630.43" r="1.0"/><circle cx="1122.14" cy="629.88" r="1.0"/><circle cx="1130.12" cy="629.52" r="1.0"/><circle cx="1049.53" cy="634.78" r="1.0"/><circle cx="1137.75" cy="635.87" r="1.0"/><circle cx="1193.66" cy="639.14" r="1.0"/><circle cx="1233.23" cy="639.87" r="1.0"/><circle cx="1113.06" cy="642.95" r="1.0"/><circle cx="1063.69" cy="649.85" r="1.0"/><circle cx="1077.85" cy="653.66" r="1.0"/><circle cx="1111.61" cy="662.92" r="1.0"/><circle cx="1144.65" cy="677.08" r="1.0"/><circle cx="1247.75" cy="636.42" r="1.0"/><circle cx="1041.4" cy="576.15" r="1.0"/><circle cx="1041.4" cy="583.41" r="1.0"/><circle cx="1041.4" cy="585.23" r="1.0"/><circle cx="1041.4" cy="587.95" r="1.0"/><circle cx="1041.4" cy="591.58" r="1.0"/><circle cx="1041.4" cy="594.3" r="1.0"/><circle cx="1041.4" cy="598.84" r="1.0"/><circle cx="1041.4" cy="601.57" r="1.0"/><circle cx="1041.4" cy="603.38" r="1.0"/><circle cx="1041.4" cy="608.83" r="1.0"/><circle cx="1041.4" cy="612.46" r="1.0"/><circle cx="1041.4" cy="614.27" r="1.0"/><circle cx="1041.4" cy="622.44" r="1.0"/><circle cx="1041.4" cy="624.26" r="1.0"/></g>
<path d="M1041.4 683.8v2.8M1075.99 683.8v2.8M1110.59 683.8v2.8M1145.18 683.8v2.8M1179.78 683.8v2.8M1214.37 683.8v2.8M1041.4 562.64h-2.8M1041.4 585.89h-2.8M1041.4 609.13h-2.8M1041.4 632.37h-2.8M1041.4 655.61h-2.8M1041.4 678.86h-2.8M1041.4 683.8v2.8M1248.1 683.8v2.8M1041.4 560.7h-2.8M1041.4 683.8h-2.8" stroke="#5a5a5a" stroke-width="0.9" fill="none"/>
<g font-size="5.6"><text x="1041.4" y="692.3" text-anchor="middle">0.0</text><text x="1075.99" y="692.3" text-anchor="middle">0.1</text><text x="1110.59" y="692.3" text-anchor="middle">0.2</text><text x="1145.18" y="692.3" text-anchor="middle">0.3</text><text x="1179.78" y="692.3" text-anchor="middle">0.4</text><text x="1214.37" y="692.3" text-anchor="middle">0.5</text><text x="1037.8" y="564.64" text-anchor="end">1.0</text><text x="1037.8" y="587.89" text-anchor="end">0.5</text><text x="1037.8" y="611.13" text-anchor="end">0.0</text><text x="1037.8" y="634.37" text-anchor="end">−0.5</text><text x="1037.8" y="657.61" text-anchor="end">−1.0</text><text x="1037.8" y="680.86" text-anchor="end">−1.5</text></g>
<text x="1144.75" y="699.3" text-anchor="middle" font-size="5.5">Neutrophils_xCell</text>
<text transform="translate(1024.84 622.25) rotate(-90)" text-anchor="middle" font-size="5.5">PUS1</text>
<rect x="1042.6" y="563" width="45.35" height="7.6" fill="#fff" fill-opacity="0.8"/>
<text x="1043.8" y="568.5" font-size="5.2" style="stroke-width:0.2px">&lt;: p=3.0e-4 r=−0.44</text>
<clipPath id="c35"><rect x="1299.4" y="560.7" width="210.6" height="123.1"/></clipPath>
<path fill="#f48fc3" d="M1300.52 560.5L1300.52 541.1L1303.68 541.1L1303.68 559.1L1313.97 559.1L1313.97 560.5ZM1321.31 560.5L1321.31 557.6L1324.26 557.6L1324.26 558.6L1338.12 558.6L1338.12 560.5ZM1346.88 560.5L1346.88 559.1L1349.02 559.1L1349.02 560.5ZM1356.35 560.5L1356.35 559.1L1359.31 559.1L1359.31 560.5ZM1367.36 560.5L1367.36 558.1L1373.88 558.1L1373.88 560.5ZM1377.55 560.5L1377.55 558.6L1383.35 558.6L1383.35 560.5ZM1388.45 560.5L1388.45 559.1L1402.31 559.1L1402.31 558.1L1405.36 558.1L1405.36 560.5ZM1412.6 560.5L1412.6 558.1L1416.57 558.1L1416.57 560.5ZM1423.19 560.5L1423.19 558.1L1426.76 558.1L1426.76 560.5ZM1433.38 560.5L1433.38 559.1L1437.05 559.1L1437.05 560.5ZM1454.98 560.5L1454.98 559.1L1458.24 559.1L1458.24 560.5ZM1493.6 560.5L1493.6 559.1L1496.96 559.1L1496.96 560.5ZM1507.86 560.5L1507.86 559.1L1510 559.1L1510 560.5Z"/>
<path fill="#f48fc3" d="M1512 584.34L1514.08 584.34L1514.08 587.4L1512 587.4ZM1512 597.75L1516.99 597.75L1516.99 605.34L1519.38 605.34L1519.38 608.69L1516.99 608.69L1516.99 612.05L1519.38 612.05L1519.38 615.4L1524.79 615.4L1524.79 618.75L1513.04 618.75L1513.04 622.1L1519.38 622.1L1519.38 625.45L1512 625.45ZM1512 628.8L1530.62 628.8L1530.62 632.16L1519.38 632.16L1519.38 638.86L1516.99 638.86L1516.99 643.1L1522.3 643.1L1522.3 649.8L1516.99 649.8L1516.99 653.15L1516.99 653.15L1516.99 658.18L1519.38 658.18L1519.38 664.1L1527.6 664.1L1527.6 667.45L1512 667.45ZM1512 670.8L1516.99 670.8L1516.99 674.15L1512 674.15Z"/>
<g clip-path="url(#c35)"><polygon fill="#e4e4e4" points="1298.4,610.5 1511,562.8 1511,639.3 1298.4,681.2"/><path d="M1334.65 560.7V683.8M1369.89 560.7V683.8M1405.14 560.7V683.8M1440.39 560.7V683.8M1475.63 560.7V683.8M1299.4 566.6H1510M1299.4 601.3H1510M1299.4 636H1510M1299.4 670.7H1510" stroke="#ececec" stroke-width="0.8" fill="none"/><path d="M1299.4 647L1510 599.5" stroke="#fff" stroke-width="3.2" fill="none"/><path d="M1299.4 647L1510 599.5" stroke="#1c1c1c" stroke-width="1.4" fill="none"/></g>
<rect x="1299.4" y="560.7" width="210.6" height="123.1" fill="none" stroke="#5a5a5a" stroke-width="1.1"/>
<g fill="#d8283a"><circle cx="1436.46" cy="584.87" r="1.0"/><circle cx="1330.05" cy="600.85" r="1.0"/><circle cx="1389.61" cy="602.67" r="1.0"/><circle cx="1412.49" cy="599.77" r="1.0"/><circle cx="1321.33" cy="608.12" r="1.0"/><circle cx="1391.06" cy="606.67" r="1.0"/><circle cx="1414.31" cy="605.21" r="1.0"/><circle cx="1401.96" cy="610.3" r="1.0"/><circle cx="1404.14" cy="610.48" r="1.0"/><circle cx="1321.33" cy="615.38" r="1.0"/><circle cx="1370.72" cy="614.66" r="1.0"/><circle cx="1380.17" cy="612.48" r="1.0"/><circle cx="1381.62" cy="616.11" r="1.0"/><circle cx="1414.31" cy="611.75" r="1.0"/><circle cx="1396.87" cy="617.02" r="1.0"/><circle cx="1399.05" cy="620.28" r="1.0"/><circle cx="1454.62" cy="618.65" r="1.0"/><circle cx="1366.73" cy="623.19" r="1.0"/><circle cx="1332.95" cy="624.82" r="1.0"/><circle cx="1425.56" cy="625.55" r="1.0"/><circle cx="1322.06" cy="629.73" r="1.0"/><circle cx="1346.39" cy="633.36" r="1.0"/><circle cx="1372.54" cy="632.45" r="1.0"/><circle cx="1397.6" cy="632.09" r="1.0"/><circle cx="1404.86" cy="630.63" r="1.0"/><circle cx="1495.29" cy="632.27" r="1.0"/><circle cx="1325.33" cy="636.26" r="1.0"/><circle cx="1357.29" cy="639.71" r="1.0"/><circle cx="1357.29" cy="640.26" r="1.0"/><circle cx="1377.99" cy="638.81" r="1.0"/><circle cx="1366.73" cy="641.89" r="1.0"/><circle cx="1326.05" cy="644.98" r="1.0"/><circle cx="1307.9" cy="646.98" r="1.0"/><circle cx="1304.99" cy="654.79" r="1.0"/><circle cx="1311.53" cy="656.06" r="1.0"/><circle cx="1320.61" cy="661.69" r="1.0"/><circle cx="1424.11" cy="656.96" r="1.0"/><circle cx="1336.22" cy="662.96" r="1.0"/><circle cx="1327.87" cy="664.59" r="1.0"/><circle cx="1334.41" cy="666.04" r="1.0"/><circle cx="1303.9" cy="664.77" r="1.0"/><circle cx="1370" cy="666.04" r="1.0"/><circle cx="1509.82" cy="616.83" r="1.0"/><circle cx="1300.27" cy="659.33" r="1.0"/><circle cx="1299.4" cy="604.85" r="1.0"/><circle cx="1299.4" cy="629.73" r="1.0"/><circle cx="1299.4" cy="632.45" r="1.0"/><circle cx="1299.4" cy="636.08" r="1.0"/><circle cx="1299.4" cy="644.25" r="1.0"/><circle cx="1299.4" cy="646.98" r="1.0"/><circle cx="1299.4" cy="649.7" r="1.0"/><circle cx="1299.4" cy="651.52" r="1.0"/><circle cx="1299.4" cy="653.33" r="1.0"/><circle cx="1299.4" cy="659.69" r="1.0"/><circle cx="1299.4" cy="664.23" r="1.0"/><circle cx="1299.4" cy="670.58" r="1.0"/></g>
<path d="M1299.4 683.8v2.8M1334.65 683.8v2.8M1369.89 683.8v2.8M1405.14 683.8v2.8M1440.39 683.8v2.8M1475.63 683.8v2.8M1299.4 566.6h-2.8M1299.4 601.3h-2.8M1299.4 636h-2.8M1299.4 670.7h-2.8M1299.4 683.8v2.8M1510 683.8v2.8M1299.4 560.7h-2.8M1299.4 683.8h-2.8" stroke="#5a5a5a" stroke-width="0.9" fill="none"/>
<g font-size="5.6"><text x="1299.4" y="692.3" text-anchor="middle">0.0</text><text x="1334.65" y="692.3" text-anchor="middle">0.1</text><text x="1369.89" y="692.3" text-anchor="middle">0.2</text><text x="1405.14" y="692.3" text-anchor="middle">0.3</text><text x="1440.39" y="692.3" text-anchor="middle">0.4</text><text x="1475.63" y="692.3" text-anchor="middle">0.5</text><text x="1295.8" y="568.6" text-anchor="end">2</text><text x="1295.8" y="603.3" text-anchor="end">1</text><text x="1295.8" y="638" text-anchor="end">0</text><text x="1295.8" y="672.7" text-anchor="end">−1</text></g>
<text x="1404.7" y="699.3" text-anchor="middle" font-size="5.5">Neutrophils_xCell</text>
<text transform="translate(1287.04 622.25) rotate(-90)" text-anchor="middle" font-size="5.5">GRN</text>
<rect x="1300.6" y="563" width="42.41" height="7.6" fill="#fff" fill-opacity="0.8"/>
<text x="1301.8" y="568.5" font-size="5.2" style="stroke-width:0.2px">&lt;: p=2.3e-6 r=0.56</text>
</g></svg>
</body></html>
